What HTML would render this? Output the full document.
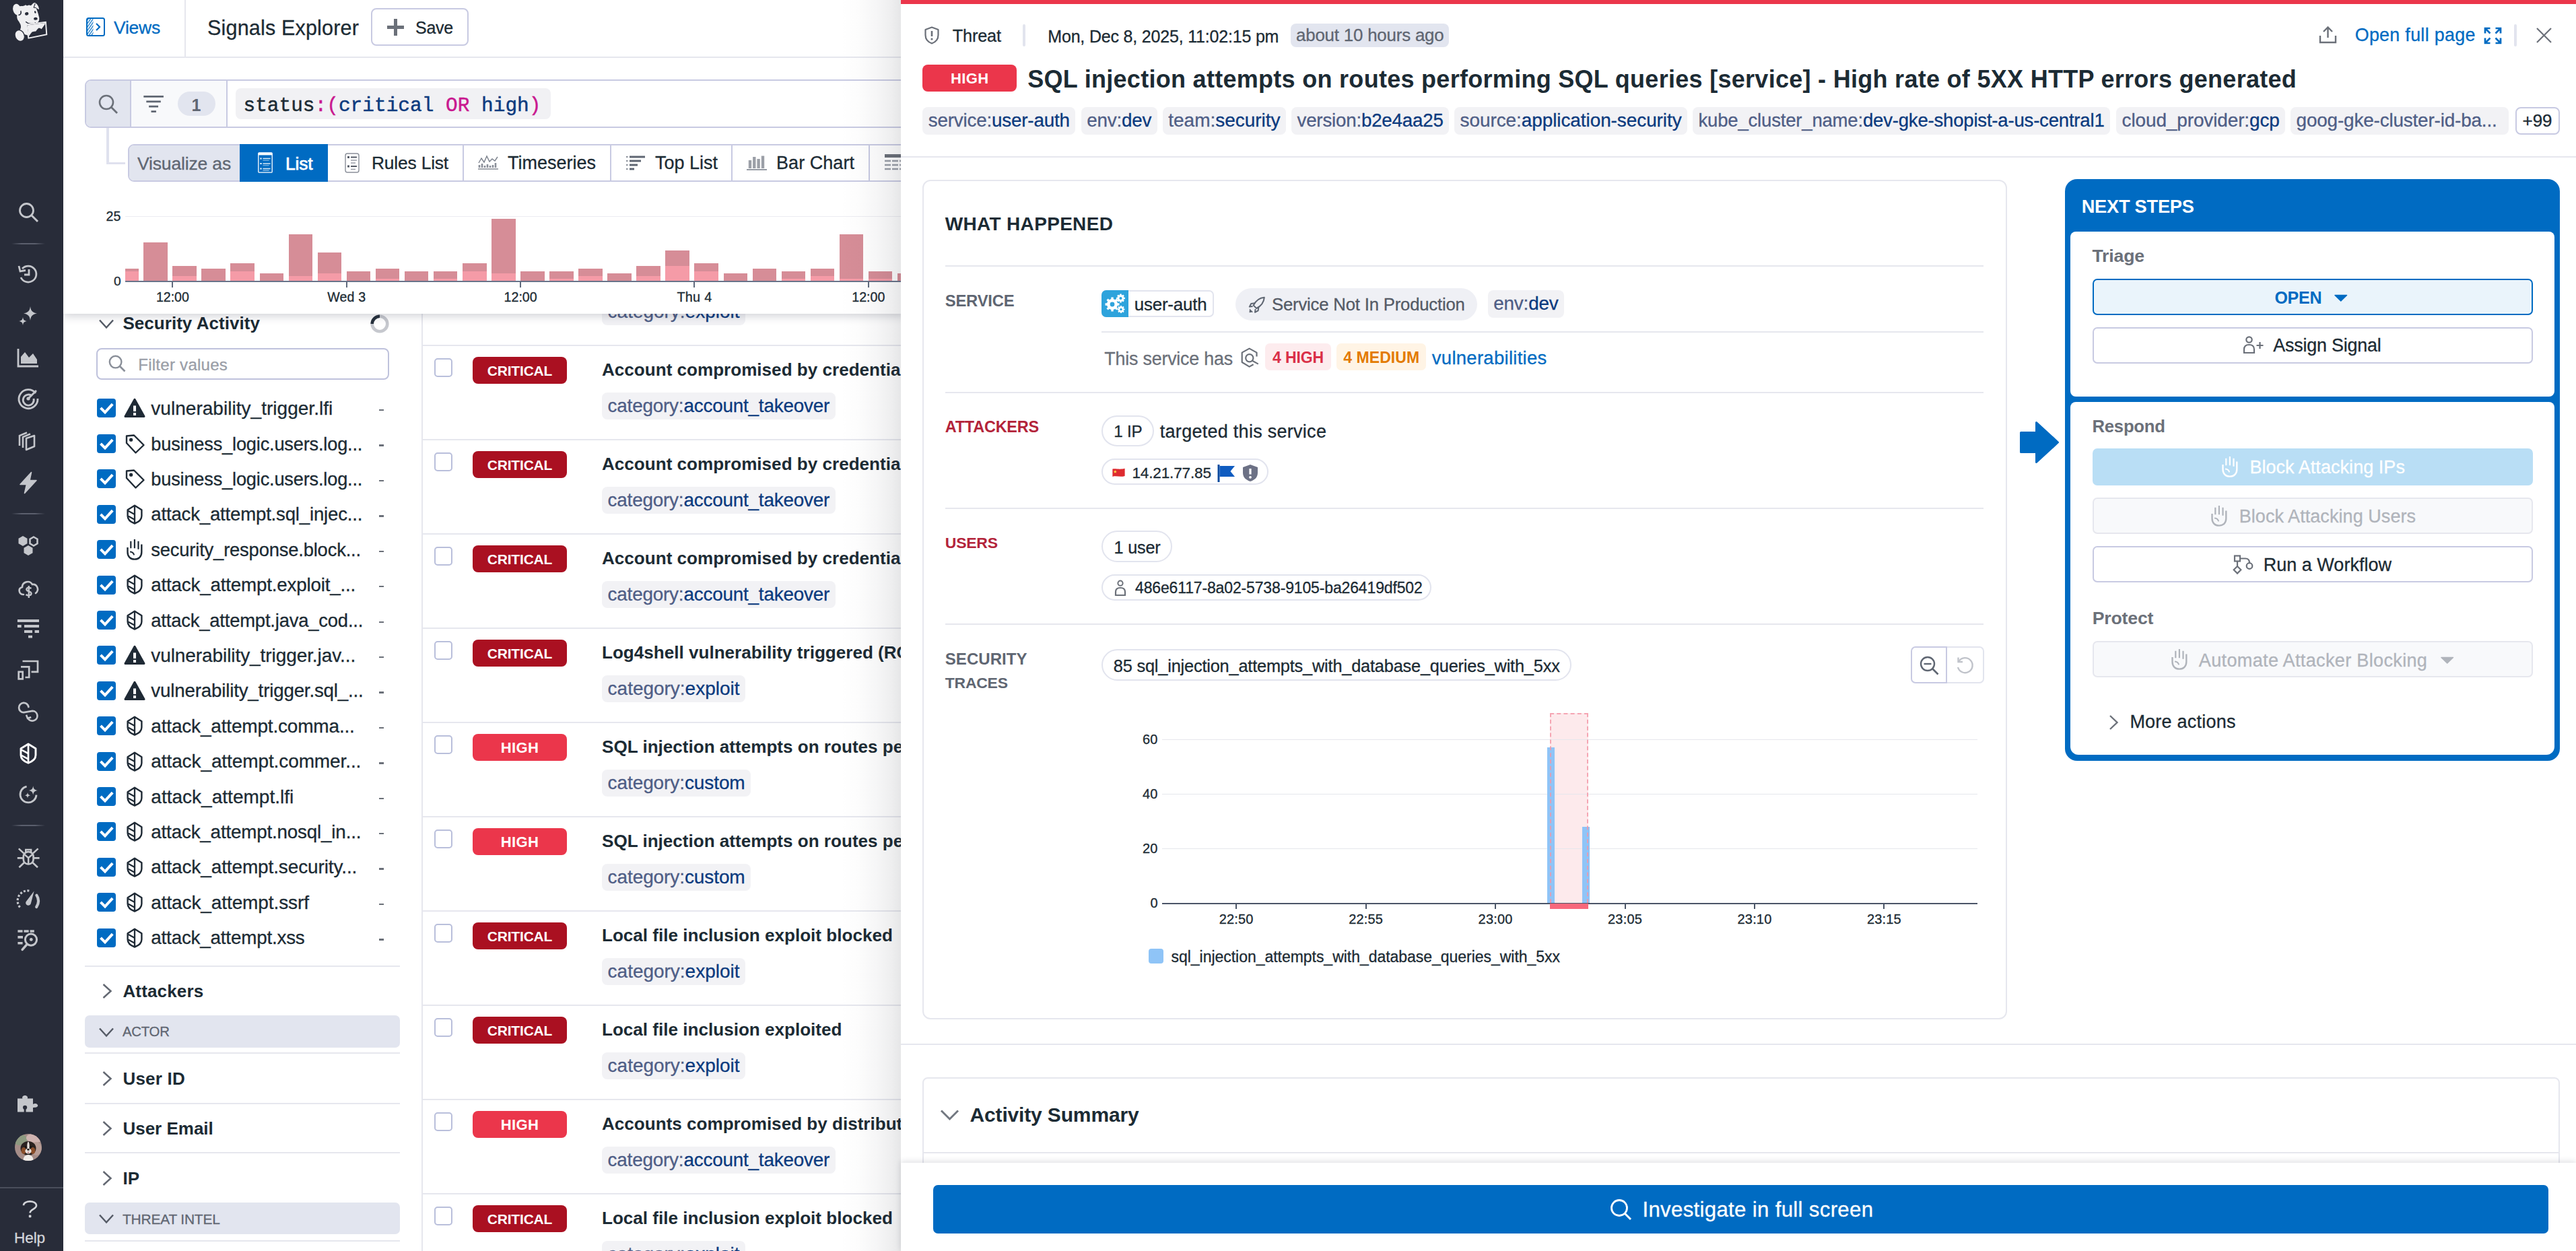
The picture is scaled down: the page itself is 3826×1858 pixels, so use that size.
<!DOCTYPE html>
<html><head><meta charset="utf-8"><title>Signals Explorer</title>
<style>
html,body{margin:0;padding:0;}
html{overflow:hidden;width:3826px;height:1858px;}
body{width:3826px;height:1858px;overflow:hidden;background:#fff;position:relative;font-family:"Liberation Sans",sans-serif;}
.a{position:absolute;box-sizing:border-box;}
.t{position:absolute;white-space:nowrap;}
svg{overflow:visible;}
.clip{position:absolute;overflow:hidden;}
</style></head><body>
<div id="root" style="position:absolute;left:0;top:0;width:3826px;height:1858px;overflow:hidden;">
<div class="a" style="left:626px;top:466px;width:2px;height:1400px;background:#e6e7ee;"></div>
<svg class="a" style="left:146px;top:471px;" width="24" height="20" viewBox="0 0 24 20"><path d="M2 4.5 L12 15.5 L22 4.5" fill="none" stroke="#555b66" stroke-width="2.5" stroke-linejoin="miter"/></svg>
<span class="t" style="left:182.40px;top:463.27px;font:700 26px/34px 'Liberation Sans',sans-serif;color:#1c2b34;letter-spacing:0.048px;">Security Activity</span>
<svg class="a" style="left:550px;top:467px;" width="28" height="28" viewBox="0 0 28 28"><circle cx="14" cy="14" r="11.3" fill="none" stroke="#c6c8ce" stroke-width="4.6"/><path d="M2.7 14 A11.3 11.3 0 0 1 14 2.7" fill="none" stroke="#27313d" stroke-width="4.6"/></svg>
<div class="a" style="left:143px;top:516.5px;width:434.5px;height:47px;background:#fff;border:2px solid #bfc2dc;border-radius:8px;"></div>
<svg class="a" style="left:160px;top:526px;" width="28" height="28" viewBox="0 0 28 28"><circle cx="11.6" cy="11.6" r="8.8" fill="none" stroke="#8a8f99" stroke-width="2.4"/><path d="M18 18 L25.5 25.5" stroke="#8a8f99" stroke-width="2.6"/></svg>
<span class="t" style="left:205.20px;top:525.93px;font:400 24.07px/31px 'Liberation Sans',sans-serif;color:#9a9ea7;letter-spacing:0.250px;-webkit-text-stroke:0.3px;">Filter values</span>
<div class="a" style="left:144px;top:592.4px;width:28px;height:28px;background:#006bc2;border-radius:4px;"></div>
<svg class="a" style="left:144px;top:592.4px;" width="28" height="28" viewBox="0 0 28 28"><path d="M5.5 13.8 L12 20.3 L23.2 8.2" fill="none" stroke="#fff" stroke-width="4"/></svg>
<svg class="a" style="left:184px;top:591.4px;" width="32" height="30" viewBox="0 0 32 30"><path d="M16 2.2 L30 27.5 H2 Z" fill="#1f2a35" stroke="#1f2a35" stroke-width="3" stroke-linejoin="round"/><rect x="14" y="11.5" width="4" height="8.5" fill="#fff"/><rect x="14" y="22" width="4" height="4" fill="#fff"/></svg>
<span class="t" style="left:224.30px;top:589.00px;font:400 28px/36px 'Liberation Sans',sans-serif;color:#1c2b34;letter-spacing:0.030px;-webkit-text-stroke:0.3px;">vulnerability_trigger.lfi</span>
<div class="a" style="left:562.5px;top:608px;width:7px;height:2.4px;background:#6b7079;"></div>
<div class="a" style="left:144px;top:644.82px;width:28px;height:28px;background:#006bc2;border-radius:4px;"></div>
<svg class="a" style="left:144px;top:644.82px;" width="28" height="28" viewBox="0 0 28 28"><path d="M5.5 13.8 L12 20.3 L23.2 8.2" fill="none" stroke="#fff" stroke-width="4"/></svg>
<svg class="a" style="left:186px;top:644.82px;" width="29" height="29" viewBox="0 0 29 29"><path d="M2 2.5 L13 1.5 L27.5 16 L15.5 27.5 L2 13 Z" fill="none" stroke="#1f2a35" stroke-width="2.4" stroke-linejoin="round"/><circle cx="8.6" cy="8.2" r="2.6" fill="#1f2a35"/></svg>
<span class="t" style="left:224.30px;top:641.91px;font:400 27.18px/35px 'Liberation Sans',sans-serif;color:#1c2b34;letter-spacing:-0.177px;-webkit-text-stroke:0.3px;">business_logic.users.log...</span>
<div class="a" style="left:562.5px;top:660.42px;width:7px;height:2.4px;background:#6b7079;"></div>
<div class="a" style="left:144px;top:697.24px;width:28px;height:28px;background:#006bc2;border-radius:4px;"></div>
<svg class="a" style="left:144px;top:697.24px;" width="28" height="28" viewBox="0 0 28 28"><path d="M5.5 13.8 L12 20.3 L23.2 8.2" fill="none" stroke="#fff" stroke-width="4"/></svg>
<svg class="a" style="left:186px;top:697.24px;" width="29" height="29" viewBox="0 0 29 29"><path d="M2 2.5 L13 1.5 L27.5 16 L15.5 27.5 L2 13 Z" fill="none" stroke="#1f2a35" stroke-width="2.4" stroke-linejoin="round"/><circle cx="8.6" cy="8.2" r="2.6" fill="#1f2a35"/></svg>
<span class="t" style="left:224.30px;top:694.33px;font:400 27.18px/35px 'Liberation Sans',sans-serif;color:#1c2b34;letter-spacing:-0.177px;-webkit-text-stroke:0.3px;">business_logic.users.log...</span>
<div class="a" style="left:562.5px;top:712.84px;width:7px;height:2.4px;background:#6b7079;"></div>
<div class="a" style="left:144px;top:749.66px;width:28px;height:28px;background:#006bc2;border-radius:4px;"></div>
<svg class="a" style="left:144px;top:749.66px;" width="28" height="28" viewBox="0 0 28 28"><path d="M5.5 13.8 L12 20.3 L23.2 8.2" fill="none" stroke="#fff" stroke-width="4"/></svg>
<svg class="a" style="left:188px;top:748.56px;" width="24" height="30" viewBox="0 0 24 30"><path d="M12 1.7 L22.4 8.2 V17.2 C22.4 22.4 17.5 26.5 12 28.5 C6.5 26.5 1.6 22.4 1.6 17.2 V8.2 Z" fill="none" stroke="#1f2a35" stroke-width="2.4" stroke-linejoin="round"/><path d="M12 1.7 V28.5" stroke="#1f2a35" stroke-width="2.3"/><path d="M2.4 9.8 L12 14.9 M2.4 17.6 L12 22.7" stroke="#1f2a35" stroke-width="2.3"/></svg>
<span class="t" style="left:224.30px;top:746.26px;font:400 27.57px/36px 'Liberation Sans',sans-serif;color:#1c2b34;letter-spacing:-0.176px;-webkit-text-stroke:0.3px;">attack_attempt.sql_injec...</span>
<div class="a" style="left:562.5px;top:765.26px;width:7px;height:2.4px;background:#6b7079;"></div>
<div class="a" style="left:144px;top:802.08px;width:28px;height:28px;background:#006bc2;border-radius:4px;"></div>
<svg class="a" style="left:144px;top:802.08px;" width="28" height="28" viewBox="0 0 28 28"><path d="M5.5 13.8 L12 20.3 L23.2 8.2" fill="none" stroke="#fff" stroke-width="4"/></svg>
<svg class="a" style="left:188.1px;top:800.58px;" width="24" height="31" viewBox="0 0 24 31"><path d="M1.5 12 V19 C1.5 25.6 5.8 29.6 11.9 29.6 C18 29.6 22.3 25.6 22.3 19 V7.6" fill="none" stroke="#1f2a35" stroke-width="2.4"/><path d="M6.3 2.8 V13.2 M11.9 0 V13.2 M17.5 2.8 V14.8" fill="none" stroke="#1f2a35" stroke-width="2.2"/><path d="M5 18.5 C8.2 18.7 10.7 20.6 11.1 23.4" fill="none" stroke="#1f2a35" stroke-width="2"/></svg>
<span class="t" style="left:224.30px;top:798.67px;font:400 27.36px/36px 'Liberation Sans',sans-serif;color:#1c2b34;letter-spacing:-0.181px;-webkit-text-stroke:0.3px;">security_response.block...</span>
<div class="a" style="left:562.5px;top:817.68px;width:7px;height:2.4px;background:#6b7079;"></div>
<div class="a" style="left:144px;top:854.5px;width:28px;height:28px;background:#006bc2;border-radius:4px;"></div>
<svg class="a" style="left:144px;top:854.5px;" width="28" height="28" viewBox="0 0 28 28"><path d="M5.5 13.8 L12 20.3 L23.2 8.2" fill="none" stroke="#fff" stroke-width="4"/></svg>
<svg class="a" style="left:188px;top:853.4px;" width="24" height="30" viewBox="0 0 24 30"><path d="M12 1.7 L22.4 8.2 V17.2 C22.4 22.4 17.5 26.5 12 28.5 C6.5 26.5 1.6 22.4 1.6 17.2 V8.2 Z" fill="none" stroke="#1f2a35" stroke-width="2.4" stroke-linejoin="round"/><path d="M12 1.7 V28.5" stroke="#1f2a35" stroke-width="2.3"/><path d="M2.4 9.8 L12 14.9 M2.4 17.6 L12 22.7" stroke="#1f2a35" stroke-width="2.3"/></svg>
<span class="t" style="left:224.30px;top:851.10px;font:400 27.74px/36px 'Liberation Sans',sans-serif;color:#1c2b34;letter-spacing:-0.177px;-webkit-text-stroke:0.3px;">attack_attempt.exploit_...</span>
<div class="a" style="left:562.5px;top:870.1px;width:7px;height:2.4px;background:#6b7079;"></div>
<div class="a" style="left:144px;top:906.92px;width:28px;height:28px;background:#006bc2;border-radius:4px;"></div>
<svg class="a" style="left:144px;top:906.92px;" width="28" height="28" viewBox="0 0 28 28"><path d="M5.5 13.8 L12 20.3 L23.2 8.2" fill="none" stroke="#fff" stroke-width="4"/></svg>
<svg class="a" style="left:188px;top:905.82px;" width="24" height="30" viewBox="0 0 24 30"><path d="M12 1.7 L22.4 8.2 V17.2 C22.4 22.4 17.5 26.5 12 28.5 C6.5 26.5 1.6 22.4 1.6 17.2 V8.2 Z" fill="none" stroke="#1f2a35" stroke-width="2.4" stroke-linejoin="round"/><path d="M12 1.7 V28.5" stroke="#1f2a35" stroke-width="2.3"/><path d="M2.4 9.8 L12 14.9 M2.4 17.6 L12 22.7" stroke="#1f2a35" stroke-width="2.3"/></svg>
<span class="t" style="left:224.30px;top:903.51px;font:400 27.4px/36px 'Liberation Sans',sans-serif;color:#1c2b34;letter-spacing:-0.187px;-webkit-text-stroke:0.3px;">attack_attempt.java_cod...</span>
<div class="a" style="left:562.5px;top:922.52px;width:7px;height:2.4px;background:#6b7079;"></div>
<div class="a" style="left:144px;top:959.34px;width:28px;height:28px;background:#006bc2;border-radius:4px;"></div>
<svg class="a" style="left:144px;top:959.34px;" width="28" height="28" viewBox="0 0 28 28"><path d="M5.5 13.8 L12 20.3 L23.2 8.2" fill="none" stroke="#fff" stroke-width="4"/></svg>
<svg class="a" style="left:184px;top:958.34px;" width="32" height="30" viewBox="0 0 32 30"><path d="M16 2.2 L30 27.5 H2 Z" fill="#1f2a35" stroke="#1f2a35" stroke-width="3" stroke-linejoin="round"/><rect x="14" y="11.5" width="4" height="8.5" fill="#fff"/><rect x="14" y="22" width="4" height="4" fill="#fff"/></svg>
<span class="t" style="left:224.30px;top:955.94px;font:400 28px/36px 'Liberation Sans',sans-serif;color:#1c2b34;letter-spacing:-0.081px;-webkit-text-stroke:0.3px;">vulnerability_trigger.jav...</span>
<div class="a" style="left:562.5px;top:974.94px;width:7px;height:2.4px;background:#6b7079;"></div>
<div class="a" style="left:144px;top:1011.76px;width:28px;height:28px;background:#006bc2;border-radius:4px;"></div>
<svg class="a" style="left:144px;top:1011.76px;" width="28" height="28" viewBox="0 0 28 28"><path d="M5.5 13.8 L12 20.3 L23.2 8.2" fill="none" stroke="#fff" stroke-width="4"/></svg>
<svg class="a" style="left:184px;top:1010.76px;" width="32" height="30" viewBox="0 0 32 30"><path d="M16 2.2 L30 27.5 H2 Z" fill="#1f2a35" stroke="#1f2a35" stroke-width="3" stroke-linejoin="round"/><rect x="14" y="11.5" width="4" height="8.5" fill="#fff"/><rect x="14" y="22" width="4" height="4" fill="#fff"/></svg>
<span class="t" style="left:224.30px;top:1008.36px;font:400 27.7px/36px 'Liberation Sans',sans-serif;color:#1c2b34;letter-spacing:-0.164px;-webkit-text-stroke:0.3px;">vulnerability_trigger.sql_...</span>
<div class="a" style="left:562.5px;top:1027.36px;width:7px;height:2.4px;background:#6b7079;"></div>
<div class="a" style="left:144px;top:1064.18px;width:28px;height:28px;background:#006bc2;border-radius:4px;"></div>
<svg class="a" style="left:144px;top:1064.18px;" width="28" height="28" viewBox="0 0 28 28"><path d="M5.5 13.8 L12 20.3 L23.2 8.2" fill="none" stroke="#fff" stroke-width="4"/></svg>
<svg class="a" style="left:188px;top:1063.08px;" width="24" height="30" viewBox="0 0 24 30"><path d="M12 1.7 L22.4 8.2 V17.2 C22.4 22.4 17.5 26.5 12 28.5 C6.5 26.5 1.6 22.4 1.6 17.2 V8.2 Z" fill="none" stroke="#1f2a35" stroke-width="2.4" stroke-linejoin="round"/><path d="M12 1.7 V28.5" stroke="#1f2a35" stroke-width="2.3"/><path d="M2.4 9.8 L12 14.9 M2.4 17.6 L12 22.7" stroke="#1f2a35" stroke-width="2.3"/></svg>
<span class="t" style="left:224.30px;top:1060.78px;font:400 28px/36px 'Liberation Sans',sans-serif;color:#1c2b34;letter-spacing:-0.181px;-webkit-text-stroke:0.3px;">attack_attempt.comma...</span>
<div class="a" style="left:562.5px;top:1079.78px;width:7px;height:2.4px;background:#6b7079;"></div>
<div class="a" style="left:144px;top:1116.6px;width:28px;height:28px;background:#006bc2;border-radius:4px;"></div>
<svg class="a" style="left:144px;top:1116.6px;" width="28" height="28" viewBox="0 0 28 28"><path d="M5.5 13.8 L12 20.3 L23.2 8.2" fill="none" stroke="#fff" stroke-width="4"/></svg>
<svg class="a" style="left:188px;top:1115.5px;" width="24" height="30" viewBox="0 0 24 30"><path d="M12 1.7 L22.4 8.2 V17.2 C22.4 22.4 17.5 26.5 12 28.5 C6.5 26.5 1.6 22.4 1.6 17.2 V8.2 Z" fill="none" stroke="#1f2a35" stroke-width="2.4" stroke-linejoin="round"/><path d="M12 1.7 V28.5" stroke="#1f2a35" stroke-width="2.3"/><path d="M2.4 9.8 L12 14.9 M2.4 17.6 L12 22.7" stroke="#1f2a35" stroke-width="2.3"/></svg>
<span class="t" style="left:224.30px;top:1113.20px;font:400 28px/36px 'Liberation Sans',sans-serif;color:#1c2b34;letter-spacing:-0.098px;-webkit-text-stroke:0.3px;">attack_attempt.commer...</span>
<div class="a" style="left:562.5px;top:1132.2px;width:7px;height:2.4px;background:#6b7079;"></div>
<div class="a" style="left:144px;top:1169.02px;width:28px;height:28px;background:#006bc2;border-radius:4px;"></div>
<svg class="a" style="left:144px;top:1169.02px;" width="28" height="28" viewBox="0 0 28 28"><path d="M5.5 13.8 L12 20.3 L23.2 8.2" fill="none" stroke="#fff" stroke-width="4"/></svg>
<svg class="a" style="left:188px;top:1167.92px;" width="24" height="30" viewBox="0 0 24 30"><path d="M12 1.7 L22.4 8.2 V17.2 C22.4 22.4 17.5 26.5 12 28.5 C6.5 26.5 1.6 22.4 1.6 17.2 V8.2 Z" fill="none" stroke="#1f2a35" stroke-width="2.4" stroke-linejoin="round"/><path d="M12 1.7 V28.5" stroke="#1f2a35" stroke-width="2.3"/><path d="M2.4 9.8 L12 14.9 M2.4 17.6 L12 22.7" stroke="#1f2a35" stroke-width="2.3"/></svg>
<span class="t" style="left:224.30px;top:1165.62px;font:400 28px/36px 'Liberation Sans',sans-serif;color:#1c2b34;letter-spacing:0.019px;-webkit-text-stroke:0.3px;">attack_attempt.lfi</span>
<div class="a" style="left:562.5px;top:1184.62px;width:7px;height:2.4px;background:#6b7079;"></div>
<div class="a" style="left:144px;top:1221.44px;width:28px;height:28px;background:#006bc2;border-radius:4px;"></div>
<svg class="a" style="left:144px;top:1221.44px;" width="28" height="28" viewBox="0 0 28 28"><path d="M5.5 13.8 L12 20.3 L23.2 8.2" fill="none" stroke="#fff" stroke-width="4"/></svg>
<svg class="a" style="left:188px;top:1220.34px;" width="24" height="30" viewBox="0 0 24 30"><path d="M12 1.7 L22.4 8.2 V17.2 C22.4 22.4 17.5 26.5 12 28.5 C6.5 26.5 1.6 22.4 1.6 17.2 V8.2 Z" fill="none" stroke="#1f2a35" stroke-width="2.4" stroke-linejoin="round"/><path d="M12 1.7 V28.5" stroke="#1f2a35" stroke-width="2.3"/><path d="M2.4 9.8 L12 14.9 M2.4 17.6 L12 22.7" stroke="#1f2a35" stroke-width="2.3"/></svg>
<span class="t" style="left:224.30px;top:1218.04px;font:400 27.8px/36px 'Liberation Sans',sans-serif;color:#1c2b34;letter-spacing:-0.185px;-webkit-text-stroke:0.3px;">attack_attempt.nosql_in...</span>
<div class="a" style="left:562.5px;top:1237.04px;width:7px;height:2.4px;background:#6b7079;"></div>
<div class="a" style="left:144px;top:1273.86px;width:28px;height:28px;background:#006bc2;border-radius:4px;"></div>
<svg class="a" style="left:144px;top:1273.86px;" width="28" height="28" viewBox="0 0 28 28"><path d="M5.5 13.8 L12 20.3 L23.2 8.2" fill="none" stroke="#fff" stroke-width="4"/></svg>
<svg class="a" style="left:188px;top:1272.76px;" width="24" height="30" viewBox="0 0 24 30"><path d="M12 1.7 L22.4 8.2 V17.2 C22.4 22.4 17.5 26.5 12 28.5 C6.5 26.5 1.6 22.4 1.6 17.2 V8.2 Z" fill="none" stroke="#1f2a35" stroke-width="2.4" stroke-linejoin="round"/><path d="M12 1.7 V28.5" stroke="#1f2a35" stroke-width="2.3"/><path d="M2.4 9.8 L12 14.9 M2.4 17.6 L12 22.7" stroke="#1f2a35" stroke-width="2.3"/></svg>
<span class="t" style="left:224.30px;top:1270.46px;font:400 28px/36px 'Liberation Sans',sans-serif;color:#1c2b34;letter-spacing:-0.126px;-webkit-text-stroke:0.3px;">attack_attempt.security...</span>
<div class="a" style="left:562.5px;top:1289.46px;width:7px;height:2.4px;background:#6b7079;"></div>
<div class="a" style="left:144px;top:1326.28px;width:28px;height:28px;background:#006bc2;border-radius:4px;"></div>
<svg class="a" style="left:144px;top:1326.28px;" width="28" height="28" viewBox="0 0 28 28"><path d="M5.5 13.8 L12 20.3 L23.2 8.2" fill="none" stroke="#fff" stroke-width="4"/></svg>
<svg class="a" style="left:188px;top:1325.18px;" width="24" height="30" viewBox="0 0 24 30"><path d="M12 1.7 L22.4 8.2 V17.2 C22.4 22.4 17.5 26.5 12 28.5 C6.5 26.5 1.6 22.4 1.6 17.2 V8.2 Z" fill="none" stroke="#1f2a35" stroke-width="2.4" stroke-linejoin="round"/><path d="M12 1.7 V28.5" stroke="#1f2a35" stroke-width="2.3"/><path d="M2.4 9.8 L12 14.9 M2.4 17.6 L12 22.7" stroke="#1f2a35" stroke-width="2.3"/></svg>
<span class="t" style="left:224.30px;top:1322.88px;font:400 28px/36px 'Liberation Sans',sans-serif;color:#1c2b34;letter-spacing:-0.107px;-webkit-text-stroke:0.3px;">attack_attempt.ssrf</span>
<div class="a" style="left:562.5px;top:1341.88px;width:7px;height:2.4px;background:#6b7079;"></div>
<div class="a" style="left:144px;top:1378.7px;width:28px;height:28px;background:#006bc2;border-radius:4px;"></div>
<svg class="a" style="left:144px;top:1378.7px;" width="28" height="28" viewBox="0 0 28 28"><path d="M5.5 13.8 L12 20.3 L23.2 8.2" fill="none" stroke="#fff" stroke-width="4"/></svg>
<svg class="a" style="left:188px;top:1377.6px;" width="24" height="30" viewBox="0 0 24 30"><path d="M12 1.7 L22.4 8.2 V17.2 C22.4 22.4 17.5 26.5 12 28.5 C6.5 26.5 1.6 22.4 1.6 17.2 V8.2 Z" fill="none" stroke="#1f2a35" stroke-width="2.4" stroke-linejoin="round"/><path d="M12 1.7 V28.5" stroke="#1f2a35" stroke-width="2.3"/><path d="M2.4 9.8 L12 14.9 M2.4 17.6 L12 22.7" stroke="#1f2a35" stroke-width="2.3"/></svg>
<span class="t" style="left:224.30px;top:1375.30px;font:400 27.81px/36px 'Liberation Sans',sans-serif;color:#1c2b34;letter-spacing:-0.192px;-webkit-text-stroke:0.3px;">attack_attempt.xss</span>
<div class="a" style="left:562.5px;top:1394.3px;width:7px;height:2.4px;background:#6b7079;"></div>
<div class="a" style="left:126px;top:1434px;width:468px;height:2px;background:#e6e7ee;"></div>
<svg class="a" style="left:148.5px;top:1460px;" width="20" height="24" viewBox="0 0 20 24"><path d="M4.5 2 L15.5 12 L4.5 22" fill="none" stroke="#636872" stroke-width="2.5"/></svg>
<span class="t" style="left:182.40px;top:1455.47px;font:700 26px/34px 'Liberation Sans',sans-serif;color:#1c2b34;letter-spacing:0.165px;">Attackers</span>
<div class="a" style="left:126px;top:1508px;width:468px;height:47.5px;background:#e2e5ef;border-radius:7px;"></div>
<svg class="a" style="left:146px;top:1522.5px;" width="24" height="20" viewBox="0 0 24 20"><path d="M2 4.5 L12 15.5 L22 4.5" fill="none" stroke="#555b66" stroke-width="2.5" stroke-linejoin="miter"/></svg>
<span class="t" style="left:182.00px;top:1519.37px;font:400 20.32px/26px 'Liberation Sans',sans-serif;color:#5f6672;letter-spacing:-0.211px;-webkit-text-stroke:0.3px;">ACTOR</span>
<div class="a" style="left:126px;top:1563.4px;width:468px;height:2px;background:#e6e7ee;"></div>
<svg class="a" style="left:148.5px;top:1589.5px;" width="20" height="24" viewBox="0 0 20 24"><path d="M4.5 2 L15.5 12 L4.5 22" fill="none" stroke="#636872" stroke-width="2.5"/></svg>
<span class="t" style="left:182.40px;top:1584.97px;font:700 26px/34px 'Liberation Sans',sans-serif;color:#1c2b34;letter-spacing:0.223px;">User ID</span>
<div class="a" style="left:126px;top:1637.5px;width:468px;height:2px;background:#e6e7ee;"></div>
<svg class="a" style="left:148.5px;top:1664px;" width="20" height="24" viewBox="0 0 20 24"><path d="M4.5 2 L15.5 12 L4.5 22" fill="none" stroke="#636872" stroke-width="2.5"/></svg>
<span class="t" style="left:182.40px;top:1659.47px;font:700 26px/34px 'Liberation Sans',sans-serif;color:#1c2b34;">User Email</span>
<div class="a" style="left:126px;top:1711.2px;width:468px;height:2px;background:#e6e7ee;"></div>
<svg class="a" style="left:148.5px;top:1738px;" width="20" height="24" viewBox="0 0 20 24"><path d="M4.5 2 L15.5 12 L4.5 22" fill="none" stroke="#636872" stroke-width="2.5"/></svg>
<span class="t" style="left:182.40px;top:1733.47px;font:700 26px/34px 'Liberation Sans',sans-serif;color:#1c2b34;letter-spacing:0.067px;">IP</span>
<div class="a" style="left:126px;top:1785.9px;width:468px;height:47px;background:#e2e5ef;border-radius:7px;"></div>
<svg class="a" style="left:146px;top:1800.4px;" width="24" height="20" viewBox="0 0 24 20"><path d="M2 4.5 L12 15.5 L22 4.5" fill="none" stroke="#555b66" stroke-width="2.5" stroke-linejoin="miter"/></svg>
<span class="t" style="left:182.00px;top:1796.88px;font:400 20.93px/27px 'Liberation Sans',sans-serif;color:#5f6672;letter-spacing:-0.185px;-webkit-text-stroke:0.3px;">THREAT INTEL</span>
<div class="a" style="left:126px;top:1842px;width:468px;height:2px;background:#e6e7ee;"></div>
<div class="a" style="left:894.2px;top:442.6px;width:212.7px;height:40.6px;background:#f2f2f5;border-radius:8px;"></div>
<span class="t" style="left:902.60px;top:445.20px;font:400 28px/36px 'Liberation Sans',sans-serif;color:#0b3a7e;letter-spacing:-0.020px;-webkit-text-stroke:0.3px;"><span style="color:#4f5e86">category:</span>exploit</span>
<div class="a" style="left:628px;top:511.8px;width:720px;height:2px;background:#e6e7ee;"></div>
<div class="a" style="left:644.5px;top:532.1px;width:27.5px;height:27.5px;background:#fff;border:2px solid #b9bfdb;border-radius:5px;"></div>
<div class="a" style="left:702px;top:530.2px;width:140px;height:39.4px;background:#aa1021;border-radius:8px;"></div>
<span class="t" style="left:723.80px;top:536.98px;font:700 20.97px/27px 'Liberation Sans',sans-serif;color:#fff;letter-spacing:-0.181px;">CRITICAL</span>
<span class="t" style="left:894.00px;top:532.27px;font:700 26.08px/34px 'Liberation Sans',sans-serif;color:#1c2b34;">Account compromised by credential stuffing</span>
<div class="a" style="left:894.2px;top:582.6px;width:346.4px;height:40.6px;background:#f2f2f5;border-radius:8px;"></div>
<span class="t" style="left:902.60px;top:585.20px;font:400 27.86px/36px 'Liberation Sans',sans-serif;color:#0b3a7e;letter-spacing:-0.201px;-webkit-text-stroke:0.3px;"><span style="color:#4f5e86">category:</span>account_takeover</span>
<div class="a" style="left:628px;top:651.8px;width:720px;height:2px;background:#e6e7ee;"></div>
<div class="a" style="left:644.5px;top:672.1px;width:27.5px;height:27.5px;background:#fff;border:2px solid #b9bfdb;border-radius:5px;"></div>
<div class="a" style="left:702px;top:670.2px;width:140px;height:39.4px;background:#aa1021;border-radius:8px;"></div>
<span class="t" style="left:723.80px;top:676.98px;font:700 20.97px/27px 'Liberation Sans',sans-serif;color:#fff;letter-spacing:-0.181px;">CRITICAL</span>
<span class="t" style="left:894.00px;top:672.27px;font:700 26.08px/34px 'Liberation Sans',sans-serif;color:#1c2b34;">Account compromised by credential stuffing</span>
<div class="a" style="left:894.2px;top:722.6px;width:346.4px;height:40.6px;background:#f2f2f5;border-radius:8px;"></div>
<span class="t" style="left:902.60px;top:725.20px;font:400 27.86px/36px 'Liberation Sans',sans-serif;color:#0b3a7e;letter-spacing:-0.201px;-webkit-text-stroke:0.3px;"><span style="color:#4f5e86">category:</span>account_takeover</span>
<div class="a" style="left:628px;top:791.8px;width:720px;height:2px;background:#e6e7ee;"></div>
<div class="a" style="left:644.5px;top:812.1px;width:27.5px;height:27.5px;background:#fff;border:2px solid #b9bfdb;border-radius:5px;"></div>
<div class="a" style="left:702px;top:810.2px;width:140px;height:39.4px;background:#aa1021;border-radius:8px;"></div>
<span class="t" style="left:723.80px;top:816.98px;font:700 20.97px/27px 'Liberation Sans',sans-serif;color:#fff;letter-spacing:-0.181px;">CRITICAL</span>
<span class="t" style="left:894.00px;top:812.27px;font:700 26.08px/34px 'Liberation Sans',sans-serif;color:#1c2b34;">Account compromised by credential stuffing</span>
<div class="a" style="left:894.2px;top:862.6px;width:346.4px;height:40.6px;background:#f2f2f5;border-radius:8px;"></div>
<span class="t" style="left:902.60px;top:865.20px;font:400 27.86px/36px 'Liberation Sans',sans-serif;color:#0b3a7e;letter-spacing:-0.201px;-webkit-text-stroke:0.3px;"><span style="color:#4f5e86">category:</span>account_takeover</span>
<div class="a" style="left:628px;top:931.8px;width:720px;height:2px;background:#e6e7ee;"></div>
<div class="a" style="left:644.5px;top:952.1px;width:27.5px;height:27.5px;background:#fff;border:2px solid #b9bfdb;border-radius:5px;"></div>
<div class="a" style="left:702px;top:950.2px;width:140px;height:39.4px;background:#aa1021;border-radius:8px;"></div>
<span class="t" style="left:723.80px;top:956.98px;font:700 20.97px/27px 'Liberation Sans',sans-serif;color:#fff;letter-spacing:-0.181px;">CRITICAL</span>
<span class="t" style="left:894.00px;top:952.27px;font:700 26.08px/34px 'Liberation Sans',sans-serif;color:#1c2b34;">Log4shell vulnerability triggered (RCE)</span>
<div class="a" style="left:894.2px;top:1002.6px;width:212.7px;height:40.6px;background:#f2f2f5;border-radius:8px;"></div>
<span class="t" style="left:902.60px;top:1005.20px;font:400 28px/36px 'Liberation Sans',sans-serif;color:#0b3a7e;letter-spacing:-0.020px;-webkit-text-stroke:0.3px;"><span style="color:#4f5e86">category:</span>exploit</span>
<div class="a" style="left:628px;top:1071.8px;width:720px;height:2px;background:#e6e7ee;"></div>
<div class="a" style="left:644.5px;top:1092.1px;width:27.5px;height:27.5px;background:#fff;border:2px solid #b9bfdb;border-radius:5px;"></div>
<div class="a" style="left:702px;top:1090.2px;width:140px;height:39.4px;background:#eb364b;border-radius:8px;"></div>
<span class="t" style="left:743.75px;top:1096.00px;font:700 22.05px/29px 'Liberation Sans',sans-serif;color:#fff;letter-spacing:0.344px;">HIGH</span>
<span class="t" style="left:894.00px;top:1092.27px;font:700 26.08px/34px 'Liberation Sans',sans-serif;color:#1c2b34;">SQL injection attempts on routes performing SQL queries</span>
<div class="a" style="left:894.2px;top:1142.6px;width:220.9px;height:40.6px;background:#f2f2f5;border-radius:8px;"></div>
<span class="t" style="left:902.60px;top:1145.20px;font:400 28px/36px 'Liberation Sans',sans-serif;color:#0b3a7e;letter-spacing:-0.095px;-webkit-text-stroke:0.3px;"><span style="color:#4f5e86">category:</span>custom</span>
<div class="a" style="left:628px;top:1211.8px;width:720px;height:2px;background:#e6e7ee;"></div>
<div class="a" style="left:644.5px;top:1232.1px;width:27.5px;height:27.5px;background:#fff;border:2px solid #b9bfdb;border-radius:5px;"></div>
<div class="a" style="left:702px;top:1230.2px;width:140px;height:39.4px;background:#eb364b;border-radius:8px;"></div>
<span class="t" style="left:743.75px;top:1236.00px;font:700 22.05px/29px 'Liberation Sans',sans-serif;color:#fff;letter-spacing:0.344px;">HIGH</span>
<span class="t" style="left:894.00px;top:1232.27px;font:700 26.08px/34px 'Liberation Sans',sans-serif;color:#1c2b34;">SQL injection attempts on routes performing SQL queries</span>
<div class="a" style="left:894.2px;top:1282.6px;width:220.9px;height:40.6px;background:#f2f2f5;border-radius:8px;"></div>
<span class="t" style="left:902.60px;top:1285.20px;font:400 28px/36px 'Liberation Sans',sans-serif;color:#0b3a7e;letter-spacing:-0.095px;-webkit-text-stroke:0.3px;"><span style="color:#4f5e86">category:</span>custom</span>
<div class="a" style="left:628px;top:1351.8px;width:720px;height:2px;background:#e6e7ee;"></div>
<div class="a" style="left:644.5px;top:1372.1px;width:27.5px;height:27.5px;background:#fff;border:2px solid #b9bfdb;border-radius:5px;"></div>
<div class="a" style="left:702px;top:1370.2px;width:140px;height:39.4px;background:#aa1021;border-radius:8px;"></div>
<span class="t" style="left:723.80px;top:1376.98px;font:700 20.97px/27px 'Liberation Sans',sans-serif;color:#fff;letter-spacing:-0.181px;">CRITICAL</span>
<span class="t" style="left:894.00px;top:1372.27px;font:700 26.08px/34px 'Liberation Sans',sans-serif;color:#1c2b34;">Local file inclusion exploit blocked</span>
<div class="a" style="left:894.2px;top:1422.6px;width:212.7px;height:40.6px;background:#f2f2f5;border-radius:8px;"></div>
<span class="t" style="left:902.60px;top:1425.20px;font:400 28px/36px 'Liberation Sans',sans-serif;color:#0b3a7e;letter-spacing:-0.020px;-webkit-text-stroke:0.3px;"><span style="color:#4f5e86">category:</span>exploit</span>
<div class="a" style="left:628px;top:1491.8px;width:720px;height:2px;background:#e6e7ee;"></div>
<div class="a" style="left:644.5px;top:1512.1px;width:27.5px;height:27.5px;background:#fff;border:2px solid #b9bfdb;border-radius:5px;"></div>
<div class="a" style="left:702px;top:1510.2px;width:140px;height:39.4px;background:#aa1021;border-radius:8px;"></div>
<span class="t" style="left:723.80px;top:1516.98px;font:700 20.97px/27px 'Liberation Sans',sans-serif;color:#fff;letter-spacing:-0.181px;">CRITICAL</span>
<span class="t" style="left:894.00px;top:1512.27px;font:700 26.08px/34px 'Liberation Sans',sans-serif;color:#1c2b34;">Local file inclusion exploited</span>
<div class="a" style="left:894.2px;top:1562.6px;width:212.7px;height:40.6px;background:#f2f2f5;border-radius:8px;"></div>
<span class="t" style="left:902.60px;top:1565.20px;font:400 28px/36px 'Liberation Sans',sans-serif;color:#0b3a7e;letter-spacing:-0.020px;-webkit-text-stroke:0.3px;"><span style="color:#4f5e86">category:</span>exploit</span>
<div class="a" style="left:628px;top:1631.8px;width:720px;height:2px;background:#e6e7ee;"></div>
<div class="a" style="left:644.5px;top:1652.1px;width:27.5px;height:27.5px;background:#fff;border:2px solid #b9bfdb;border-radius:5px;"></div>
<div class="a" style="left:702px;top:1650.2px;width:140px;height:39.4px;background:#eb364b;border-radius:8px;"></div>
<span class="t" style="left:743.75px;top:1656.00px;font:700 22.05px/29px 'Liberation Sans',sans-serif;color:#fff;letter-spacing:0.344px;">HIGH</span>
<span class="t" style="left:894.00px;top:1652.27px;font:700 26.08px/34px 'Liberation Sans',sans-serif;color:#1c2b34;">Accounts compromised by distributed credential stuffing</span>
<div class="a" style="left:894.2px;top:1702.6px;width:346.4px;height:40.6px;background:#f2f2f5;border-radius:8px;"></div>
<span class="t" style="left:902.60px;top:1705.20px;font:400 27.86px/36px 'Liberation Sans',sans-serif;color:#0b3a7e;letter-spacing:-0.201px;-webkit-text-stroke:0.3px;"><span style="color:#4f5e86">category:</span>account_takeover</span>
<div class="a" style="left:628px;top:1771.8px;width:720px;height:2px;background:#e6e7ee;"></div>
<div class="a" style="left:644.5px;top:1792.1px;width:27.5px;height:27.5px;background:#fff;border:2px solid #b9bfdb;border-radius:5px;"></div>
<div class="a" style="left:702px;top:1790.2px;width:140px;height:39.4px;background:#aa1021;border-radius:8px;"></div>
<span class="t" style="left:723.80px;top:1796.98px;font:700 20.97px/27px 'Liberation Sans',sans-serif;color:#fff;letter-spacing:-0.181px;">CRITICAL</span>
<span class="t" style="left:894.00px;top:1792.27px;font:700 26.08px/34px 'Liberation Sans',sans-serif;color:#1c2b34;">Local file inclusion exploit blocked</span>
<div class="a" style="left:894.2px;top:1842.6px;width:212.7px;height:40.6px;background:#f2f2f5;border-radius:8px;"></div>
<span class="t" style="left:902.60px;top:1845.20px;font:400 28px/36px 'Liberation Sans',sans-serif;color:#0b3a7e;letter-spacing:-0.020px;-webkit-text-stroke:0.3px;"><span style="color:#4f5e86">category:</span>exploit</span>
<div class="a" style="left:94px;top:0px;width:1250px;height:466px;background:#fff;box-shadow:0 3px 13px rgba(30,35,60,.22);"></div>
<div class="a" style="left:94px;top:84px;width:1250px;height:2px;background:#e6e7ee;"></div>
<div class="a" style="left:274px;top:0px;width:2px;height:85px;background:#e6e7ee;"></div>
<svg class="a" style="left:128px;top:26px;" width="28" height="28" viewBox="0 0 28 28"><defs><pattern id="hatch" width="3" height="3" patternUnits="userSpaceOnUse" patternTransform="rotate(-55)"><rect width="3" height="1.2" fill="#006bc2"/></pattern></defs><rect x="1" y="1" width="26" height="26" rx="2.5" fill="#fff" stroke="#006bc2" stroke-width="2"/><rect x="2" y="2" width="8.5" height="24" fill="url(#hatch)"/><path d="M15 9 L20 14 L15 19" fill="none" stroke="#006bc2" stroke-width="2.2"/></svg>
<span class="t" style="left:169.00px;top:23.98px;font:400 26.44px/34px 'Liberation Sans',sans-serif;color:#006bc2;letter-spacing:-0.211px;-webkit-text-stroke:0.3px;">Views</span>
<span class="t" style="left:308.00px;top:20.55px;font:400 30.5px/40px 'Liberation Sans',sans-serif;color:#1c2b34;letter-spacing:0.182px;-webkit-text-stroke:0.3px;">Signals Explorer</span>
<div class="a" style="left:551px;top:12px;width:145px;height:56px;background:#fff;border:2px solid #c8cae2;border-radius:8px;"></div>
<svg class="a" style="left:574px;top:27px;" width="27" height="27" viewBox="0 0 27 27"><path d="M13.5 1 V26 M1 13.5 H26" stroke="#6b7079" stroke-width="5" fill="none"/></svg>
<span class="t" style="left:617.00px;top:24.95px;font:400 24.94px/32px 'Liberation Sans',sans-serif;color:#1c2b34;letter-spacing:-0.212px;-webkit-text-stroke:0.3px;">Save</span>
<div class="a" style="left:126px;top:118px;width:1400px;height:72px;background:#fff;border:2px solid #c8cae2;border-radius:9px 0 0 9px;"></div>
<div class="a" style="left:128px;top:120px;width:65px;height:68px;background:#e2e5ef;border-radius:7px 0 0 7px;"></div>
<div class="a" style="left:193px;top:120px;width:2px;height:68px;background:#c8cae2;"></div>
<div class="a" style="left:195px;top:120px;width:141px;height:68px;background:#f8f9fb;"></div>
<div class="a" style="left:336px;top:120px;width:2px;height:68px;background:#c8cae2;"></div>
<svg class="a" style="left:146px;top:140px;" width="30" height="30" viewBox="0 0 30 30"><circle cx="12" cy="12" r="10" fill="none" stroke="#6b7079" stroke-width="2.6"/><path d="M19.5 19.5 L28 28" stroke="#6b7079" stroke-width="2.8"/></svg>
<svg class="a" style="left:212px;top:141px;" width="32" height="27" viewBox="0 0 32 27"><path d="M1.3 2.3 H30.9 M5.3 9.8 H26.8 M9.1 17.2 H23 M12.5 24.7 H19.9" stroke="#5f6672" stroke-width="2.7" fill="none"/></svg>
<div class="a" style="left:264px;top:136px;width:56px;height:36px;background:#e2e5ef;border-radius:18px;"></div>
<span class="t" style="left:284.55px;top:139.95px;font:700 25px/32px 'Liberation Sans',sans-serif;color:#5f6672;">1</span>
<div class="a" style="left:350px;top:131px;width:468px;height:46px;background:#f1f1f4;border-radius:8px;"></div>
<span class="t" style="left:361.50px;top:137.83px;font:400 29.46px/38px 'Liberation Mono',monospace;color:#1c2b34;-webkit-text-stroke:0.45px #1c2b34;">status</span>
<span class="t" style="left:467.58px;top:137.83px;font:400 29.46px/38px 'Liberation Mono',monospace;color:#c9188f;-webkit-text-stroke:0.45px #c9188f;">:(</span>
<span class="t" style="left:502.94px;top:137.83px;font:400 29.46px/38px 'Liberation Mono',monospace;color:#0b3a7e;-webkit-text-stroke:0.45px #0b3a7e;">critical</span>
<span class="t" style="left:662.06px;top:137.83px;font:400 29.46px/38px 'Liberation Mono',monospace;color:#c9188f;-webkit-text-stroke:0.45px #c9188f;">OR</span>
<span class="t" style="left:715.10px;top:137.83px;font:400 29.46px/38px 'Liberation Mono',monospace;color:#0b3a7e;-webkit-text-stroke:0.45px #0b3a7e;">high</span>
<span class="t" style="left:785.82px;top:137.83px;font:400 29.46px/38px 'Liberation Mono',monospace;color:#c9188f;-webkit-text-stroke:0.45px #c9188f;">)</span>
<div class="a" style="left:158.3px;top:190px;width:3.7px;height:54.4px;background:#dfe1ee;"></div>
<div class="a" style="left:158.3px;top:240.7px;width:28px;height:3.7px;background:#dfe1ee;"></div>
<div class="a" style="left:190px;top:214.3px;width:1300px;height:55.4px;background:#fff;border:2px solid #c8cae2;border-radius:9px 0 0 9px;"></div>
<div class="a" style="left:192px;top:216.3px;width:164px;height:51.4px;background:#e2e5ef;border-radius:7px 0 0 7px;"></div>
<span class="t" style="left:204.00px;top:226.18px;font:400 26.5px/34px 'Liberation Sans',sans-serif;color:#5f6672;letter-spacing:-0.161px;-webkit-text-stroke:0.3px;">Visualize as</span>
<div class="a" style="left:356px;top:214.3px;width:131px;height:55.4px;background:#006bc2;"></div>
<svg class="a" style="left:383px;top:226px;" width="22" height="31" viewBox="0 0 22 31"><rect x="0.8" y="0.8" width="20.4" height="29.4" rx="1.2" fill="none" stroke="#fff" stroke-width="1.3"/><rect x="0.8" y="0.8" width="20.4" height="3.6" fill="#fff"/><path d="M3.4 9.6 H5.6 M3.4 17 H5.6 M3.4 24.4 H5.6" stroke="#fff" stroke-width="2"/><path d="M7.4 9.6 H18.6 M7.4 17 H18.6 M7.4 24.4 H18.6" stroke="#fff" stroke-width="1.5" opacity=".85"/><path d="M7.4 12.3 H16.6 M7.4 19.7 H16.6 M7.4 27.1 H16.6" stroke="#fff" stroke-width="1.1" opacity=".6"/></svg>
<span class="t" style="left:424.00px;top:225.78px;font:400 26.42px/34px 'Liberation Sans',sans-serif;color:#fff;letter-spacing:-0.154px;-webkit-text-stroke:0.75px #fff;">List</span>
<div class="a" style="left:687px;top:216.3px;width:2px;height:51.4px;background:#c8cae2;"></div>
<div class="a" style="left:906px;top:216.3px;width:2px;height:51.4px;background:#c8cae2;"></div>
<div class="a" style="left:1086px;top:216.3px;width:2px;height:51.4px;background:#c8cae2;"></div>
<div class="a" style="left:1290px;top:216.3px;width:2px;height:51.4px;background:#c8cae2;"></div>
<svg class="a" style="left:512px;top:227px;" width="22" height="30" viewBox="0 0 22 30"><rect x="1" y="1" width="20" height="28" rx="3" fill="#fff" stroke="#8a8f99" stroke-width="1.4"/><path d="M4 6.5 H7 M4 20 H7" stroke="#555b66" stroke-width="3"/><path d="M9 6.5 H18 M9 20 H18" stroke="#555b66" stroke-width="2.2"/><path d="M9 11 H18 M9 15 H16 M9 24.5 H16" stroke="#9a9fa8" stroke-width="1.4"/></svg>
<span class="t" style="left:552.00px;top:225.47px;font:400 26.36px/34px 'Liberation Sans',sans-serif;color:#1c2b34;letter-spacing:-0.174px;-webkit-text-stroke:0.3px;">Rules List</span>
<svg class="a" style="left:710px;top:230px;" width="30" height="22" viewBox="0 0 30 22"><path d="M1 12 L5 5 L9 11 L13 2 L17 10 L21 6 L25 9 L29 3" fill="none" stroke="#7b818c" stroke-width="1.4"/><path d="M2 19 V15 M6 19 V13 M10 19 V16 M14 19 V14 M18 19 V16 M22 19 V15 M26 19 V12" stroke="#8a8f99" stroke-width="2.6"/><path d="M0 21 H30" stroke="#7b818c" stroke-width="1.4"/></svg>
<span class="t" style="left:754.00px;top:224.99px;font:400 27px/35px 'Liberation Sans',sans-serif;color:#1c2b34;-webkit-text-stroke:0.3px;">Timeseries</span>
<svg class="a" style="left:930px;top:231px;" width="28" height="22" viewBox="0 0 28 22"><path d="M5 2 H28 M5 8 H22 M5 14 H17 M5 20 H12" stroke="#5f6672" stroke-width="2.8"/><path d="M0 2 H2.5 M0 8 H2.5 M0 14 H2.5 M0 20 H2.5" stroke="#8a8f99" stroke-width="2"/></svg>
<span class="t" style="left:973.00px;top:224.99px;font:400 27px/35px 'Liberation Sans',sans-serif;color:#1c2b34;letter-spacing:-0.006px;-webkit-text-stroke:0.3px;">Top List</span>
<svg class="a" style="left:1109px;top:230px;" width="30" height="23" viewBox="0 0 30 23"><path d="M5 20 V8 M11.3 20 V3 M17.6 20 V6 M24 20 V1.5" stroke="#9b9fa7" stroke-width="4.4"/><path d="M0 22 H30" stroke="#7b818c" stroke-width="1.6"/></svg>
<span class="t" style="left:1153.00px;top:224.99px;font:400 27px/35px 'Liberation Sans',sans-serif;color:#1c2b34;letter-spacing:0.051px;-webkit-text-stroke:0.3px;">Bar Chart</span>
<svg class="a" style="left:1314px;top:229px;" width="30" height="26" viewBox="0 0 30 26"><rect x="0" y="0" width="30" height="5" fill="#6b7079"/><path d="M0 10 H30 M0 16 H30 M0 22 H30" stroke="#9a9fa8" stroke-width="2.4" stroke-dasharray="9 2"/></svg>
<div class="a" style="left:186px;top:320.5px;width:1160px;height:1.5px;background:#ececf1;"></div>
<span class="t" style="left:157.50px;top:308.55px;font:400 19.6px/25px 'Liberation Sans',sans-serif;color:#1c2b34;letter-spacing:0.099px;-webkit-text-stroke:0.3px;">25</span>
<span class="t" style="left:169.00px;top:405.25px;font:400 19.17px/25px 'Liberation Sans',sans-serif;color:#1c2b34;letter-spacing:-0.162px;-webkit-text-stroke:0.3px;">0</span>
<div class="a" style="left:186.2px;top:398.65px;width:20px;height:19.35px;background:#d68d97;"></div>
<div class="a" style="left:186.2px;top:402.52px;width:20px;height:15.48px;background:#f59ba7;"></div>
<div class="a" style="left:213.3px;top:359.95px;width:35.6px;height:58.05px;background:#d68d97;"></div>
<div class="a" style="left:256.36px;top:394.78px;width:35.6px;height:23.22px;background:#d68d97;"></div>
<div class="a" style="left:256.36px;top:410.26px;width:35.6px;height:7.74px;background:#f59ba7;"></div>
<div class="a" style="left:299.42px;top:398.65px;width:35.6px;height:19.35px;background:#d68d97;"></div>
<div class="a" style="left:342.48px;top:390.91px;width:35.6px;height:27.09px;background:#d68d97;"></div>
<div class="a" style="left:342.48px;top:402.52px;width:35.6px;height:15.48px;background:#f59ba7;"></div>
<div class="a" style="left:385.54px;top:406.39px;width:35.6px;height:11.61px;background:#d68d97;"></div>
<div class="a" style="left:428.6px;top:348.34px;width:35.6px;height:69.66px;background:#d68d97;"></div>
<div class="a" style="left:428.6px;top:410.26px;width:35.6px;height:7.74px;background:#f59ba7;"></div>
<div class="a" style="left:471.66px;top:375.43px;width:35.6px;height:42.57px;background:#d68d97;"></div>
<div class="a" style="left:471.66px;top:406.39px;width:35.6px;height:11.61px;background:#f59ba7;"></div>
<div class="a" style="left:514.72px;top:402.52px;width:35.6px;height:15.48px;background:#d68d97;"></div>
<div class="a" style="left:557.78px;top:398.65px;width:35.6px;height:19.35px;background:#d68d97;"></div>
<div class="a" style="left:557.78px;top:414.13px;width:35.6px;height:3.87px;background:#f59ba7;"></div>
<div class="a" style="left:600.84px;top:402.52px;width:35.6px;height:15.48px;background:#d68d97;"></div>
<div class="a" style="left:643.9px;top:402.52px;width:35.6px;height:15.48px;background:#d68d97;"></div>
<div class="a" style="left:643.9px;top:414.13px;width:35.6px;height:3.87px;background:#f59ba7;"></div>
<div class="a" style="left:686.96px;top:390.91px;width:35.6px;height:27.09px;background:#d68d97;"></div>
<div class="a" style="left:686.96px;top:402.52px;width:35.6px;height:15.48px;background:#f59ba7;"></div>
<div class="a" style="left:730.02px;top:325.12px;width:35.6px;height:92.88px;background:#d68d97;"></div>
<div class="a" style="left:730.02px;top:406.39px;width:35.6px;height:11.61px;background:#f59ba7;"></div>
<div class="a" style="left:773.08px;top:402.52px;width:35.6px;height:15.48px;background:#d68d97;"></div>
<div class="a" style="left:816.14px;top:402.52px;width:35.6px;height:15.48px;background:#d68d97;"></div>
<div class="a" style="left:816.14px;top:414.13px;width:35.6px;height:3.87px;background:#f59ba7;"></div>
<div class="a" style="left:859.2px;top:398.65px;width:35.6px;height:19.35px;background:#d68d97;"></div>
<div class="a" style="left:859.2px;top:410.26px;width:35.6px;height:7.74px;background:#f59ba7;"></div>
<div class="a" style="left:902.26px;top:406.39px;width:35.6px;height:11.61px;background:#d68d97;"></div>
<div class="a" style="left:945.32px;top:394.78px;width:35.6px;height:23.22px;background:#d68d97;"></div>
<div class="a" style="left:945.32px;top:410.26px;width:35.6px;height:7.74px;background:#f59ba7;"></div>
<div class="a" style="left:988.38px;top:371.56px;width:35.6px;height:46.44px;background:#d68d97;"></div>
<div class="a" style="left:988.38px;top:394.78px;width:35.6px;height:23.22px;background:#f59ba7;"></div>
<div class="a" style="left:1031.44px;top:390.91px;width:35.6px;height:27.09px;background:#d68d97;"></div>
<div class="a" style="left:1031.44px;top:402.52px;width:35.6px;height:15.48px;background:#f59ba7;"></div>
<div class="a" style="left:1074.5px;top:406.39px;width:35.6px;height:11.61px;background:#d68d97;"></div>
<div class="a" style="left:1117.56px;top:398.65px;width:35.6px;height:19.35px;background:#d68d97;"></div>
<div class="a" style="left:1160.62px;top:402.52px;width:35.6px;height:15.48px;background:#d68d97;"></div>
<div class="a" style="left:1160.62px;top:414.13px;width:35.6px;height:3.87px;background:#f59ba7;"></div>
<div class="a" style="left:1203.68px;top:398.65px;width:35.6px;height:19.35px;background:#d68d97;"></div>
<div class="a" style="left:1203.68px;top:410.26px;width:35.6px;height:7.74px;background:#f59ba7;"></div>
<div class="a" style="left:1246.74px;top:348.34px;width:35.6px;height:69.66px;background:#d68d97;"></div>
<div class="a" style="left:1246.74px;top:414.13px;width:35.6px;height:3.87px;background:#f59ba7;"></div>
<div class="a" style="left:1289.8px;top:402.52px;width:35.6px;height:15.48px;background:#d68d97;"></div>
<div class="a" style="left:1289.8px;top:414.13px;width:35.6px;height:3.87px;background:#f59ba7;"></div>
<div class="a" style="left:1332.86px;top:406.39px;width:35.6px;height:11.61px;background:#d68d97;"></div>
<div class="a" style="left:186px;top:417.2px;width:1160px;height:1.7px;background:#69748a;"></div>
<div class="a" style="left:255.4px;top:418px;width:2px;height:9px;background:#5f6a7d;"></div>
<span class="t" style="left:231.90px;top:428.65px;font:400 19.6px/25px 'Liberation Sans',sans-serif;color:#1c2b34;letter-spacing:-0.010px;-webkit-text-stroke:0.3px;">12:00</span>
<div class="a" style="left:513.76px;top:418px;width:2px;height:9px;background:#5f6a7d;"></div>
<span class="t" style="left:486.26px;top:428.65px;font:400 19.6px/25px 'Liberation Sans',sans-serif;color:#1c2b34;letter-spacing:0.141px;-webkit-text-stroke:0.3px;">Wed 3</span>
<div class="a" style="left:772.12px;top:418px;width:2px;height:9px;background:#5f6a7d;"></div>
<span class="t" style="left:748.62px;top:428.65px;font:400 19.6px/25px 'Liberation Sans',sans-serif;color:#1c2b34;letter-spacing:-0.010px;-webkit-text-stroke:0.3px;">12:00</span>
<div class="a" style="left:1030.48px;top:418px;width:2px;height:9px;background:#5f6a7d;"></div>
<span class="t" style="left:1005.48px;top:428.16px;font:400 19.84px/26px 'Liberation Sans',sans-serif;color:#1c2b34;letter-spacing:0.253px;-webkit-text-stroke:0.3px;">Thu 4</span>
<div class="a" style="left:1288.84px;top:418px;width:2px;height:9px;background:#5f6a7d;"></div>
<span class="t" style="left:1265.34px;top:428.65px;font:400 19.6px/25px 'Liberation Sans',sans-serif;color:#1c2b34;letter-spacing:-0.010px;-webkit-text-stroke:0.3px;">12:00</span>
<div class="a" style="left:0px;top:0px;width:94px;height:1858px;background:#282c39;"></div>
<div class="a" style="left:0px;top:1763px;width:94px;height:2px;background:#4a4e5b;"></div>
<div class="a" style="left:17px;top:361px;width:50px;height:2px;background:linear-gradient(90deg,rgba(90,94,108,0),#5b5f6d 30%,#5b5f6d 70%,rgba(90,94,108,0));"></div>
<div class="a" style="left:17px;top:762px;width:50px;height:2px;background:linear-gradient(90deg,rgba(90,94,108,0),#5b5f6d 30%,#5b5f6d 70%,rgba(90,94,108,0));"></div>
<div class="a" style="left:17px;top:1225px;width:50px;height:2px;background:linear-gradient(90deg,rgba(90,94,108,0),#5b5f6d 30%,#5b5f6d 70%,rgba(90,94,108,0));"></div>
<svg class="a" style="left:0px;top:0px;" width="94" height="70" viewBox="0 0 94 70"><g fill="#efeff1"><ellipse cx="25.3" cy="14.3" rx="5.9" ry="8.6" transform="rotate(-16 25.3 14.3)"/><path d="M27 11 C29 8.5 33 9.5 36 8.6 L38 7.2 L40 8.6 L43 7.4 L46 8.2 C48 6.2 50 4 51.5 4 C55 5 58 10 58 14 C56 13.6 54.6 12.2 53.6 11.6 C55 16 57 20 57.6 24 C59.2 28 58.2 32 55.6 33.6 C52 36.2 46 36.6 42 35.6 L39.4 36.6 L41.4 52.5 L36 51 C34 47.5 31.5 45.2 29.6 44.6 C31.6 41.5 31.3 38.6 30.2 35.8 C29 33.4 28 32 27.3 31 C24.4 27 24.8 22 26.5 19.5 Z"/><ellipse cx="29.2" cy="53" rx="6.9" ry="8.7" transform="rotate(-24 29.2 53)" stroke="#282c39" stroke-width="1.3"/></g><path d="M30.8 16 C32 19.5 30.4 22.6 27.4 22.2" fill="none" stroke="#282c39" stroke-width="1.5"/><path d="M52.2 5.2 L50.2 11 L53.8 11.8" fill="none" stroke="#282c39" stroke-width="1.1"/><ellipse cx="39.7" cy="20.4" rx="2.7" ry="2.2" transform="rotate(-22 39.7 20.4)" fill="#282c39"/><ellipse cx="52.3" cy="18" rx="1.2" ry="1.9" transform="rotate(-20 52.3 18)" fill="#282c39"/><ellipse cx="52.9" cy="27.8" rx="2.8" ry="2" transform="rotate(-8 52.9 27.8)" fill="#282c39"/><path d="M38.2 32.2 C42 36 49 36.6 53.2 33.4" fill="none" stroke="#282c39" stroke-width="1.3"/><path d="M39.3 36.5 L67.9 32.8 L69.3 51.2 L42.4 56.7 Z" fill="#282c39" stroke="#efeff1" stroke-width="1.9" stroke-linejoin="miter"/><path d="M40.4 37.6 L66.8 34 L66.8 36 L61.6 43.2 L59.8 42 L57.6 41.4 L55.4 43.4 L53.2 46.4 L50.6 46.8 L47.6 47.6 L45.2 50.6 L43 53.8 L42.7 55 Z" fill="#efeff1"/></svg>
<svg class="a" style="left:25px;top:298px;" width="34" height="34" viewBox="0 0 34 34"><circle cx="14.5" cy="14.5" r="10" fill="none" stroke="#c4c6cb" stroke-width="2.8"/><path d="M22 22 L31 31" stroke="#c4c6cb" stroke-width="3"/></svg>
<svg class="a" style="left:25px;top:390px;" width="34" height="34" viewBox="0 0 34 34"><path d="M8 9 A12 12 0 1 1 6 22" fill="none" stroke="#c4c6cb" stroke-width="2.8"/><path d="M3 5 L5 13 L13 11.5" fill="none" stroke="#c4c6cb" stroke-width="2.8"/><path d="M18 10 V18 H11" fill="none" stroke="#c4c6cb" stroke-width="2.8"/></svg>
<svg class="a" style="left:25px;top:452px;" width="34" height="34" viewBox="0 0 34 34"><path d="M20 3 C21 10 23 12 30 13.5 C23 15 21 17 20 24 C19 17 17 15 10 13.5 C17 12 19 10 20 3 Z" fill="#c4c6cb"/><path d="M9 19 C9.6 23 10.8 24.2 15 25 C10.8 25.8 9.6 27 9 31 C8.4 27 7.2 25.8 3 25 C7.2 24.2 8.4 23 9 19 Z" fill="#c4c6cb"/></svg>
<svg class="a" style="left:25px;top:514px;" width="34" height="34" viewBox="0 0 34 34"><path d="M2 4 V30 H32" fill="none" stroke="#c4c6cb" stroke-width="2.8"/><path d="M6 26 V16 L12 9 L18 17 L24 11 L30 20 V26 Z" fill="#c4c6cb"/></svg>
<svg class="a" style="left:25px;top:574.5px;" width="34" height="34" viewBox="0 0 34 34"><path d="M28 9 A14 14 0 1 0 31 17" fill="none" stroke="#c4c6cb" stroke-width="2.8"/><path d="M22.5 13 A8 8 0 1 0 25 17" fill="none" stroke="#c4c6cb" stroke-width="2.8"/><path d="M17 17 L29 5" stroke="#c4c6cb" stroke-width="2.8"/><circle cx="17" cy="17" r="2.6" fill="#c4c6cb"/></svg>
<svg class="a" style="left:25px;top:638.5px;" width="34" height="34" viewBox="0 0 34 34"><path d="M14 12 L26 8 V24 L14 29 Z" fill="none" stroke="#c4c6cb" stroke-width="2.6" stroke-linejoin="round"/><path d="M9 26 V10 L20 5.5" fill="none" stroke="#c4c6cb" stroke-width="2.6"/><path d="M4 23 V8 L15 3.5" fill="none" stroke="#c4c6cb" stroke-width="2.6"/></svg>
<svg class="a" style="left:25px;top:699.5px;" width="34" height="34" viewBox="0 0 34 34"><path d="M21.5 1.5 L5 19.5 H14.5 L11.5 32.5 L29 13.5 H19 Z" fill="#c4c6cb" stroke="#c4c6cb" stroke-width="1.6" stroke-linejoin="round"/></svg>
<svg class="a" style="left:25px;top:792.5px;" width="34" height="34" viewBox="0 0 34 34"><path d="M9 3 L15.5 6.8 V14.2 L9 18 L2.5 14.2 V6.8 Z" fill="#c4c6cb"/><path d="M17 17 L23.5 20.8 V28.2 L17 32 L10.5 28.2 V20.8 Z" fill="#c4c6cb"/><path d="M25 4.5 L30.5 7.7 V14.3 L25 17.5 L19.5 14.3 V7.7 Z" fill="none" stroke="#c4c6cb" stroke-width="2.6"/></svg>
<svg class="a" style="left:25px;top:856.5px;" width="34" height="34" viewBox="0 0 34 34"><path d="M10 26 C3 26 1 17 8 15 C8 7 19 4 23 11 C30 10 34 19 28 24" fill="none" stroke="#c4c6cb" stroke-width="2.6" stroke-linecap="round"/><path d="M21.5 17 C18 14.5 13.5 16 14.5 19 C15.5 22 21.5 21 21.5 24.5 C21.5 28 16 28 13.5 26 M17.8 13 V31" fill="none" stroke="#c4c6cb" stroke-width="2.4"/></svg>
<svg class="a" style="left:25px;top:916px;" width="34" height="34" viewBox="0 0 34 34"><path d="M0.9 6 H33 M0.9 14 H6.7 M11 14 H33 M11 22 H23 M26.6 22 H33 M17 29.6 H23" stroke="#c4c6cb" stroke-width="3.8" fill="none"/></svg>
<svg class="a" style="left:25px;top:977.5px;" width="34" height="34" viewBox="0 0 34 34"><path d="M8.5 4 H31 V19.8 H21.5" fill="none" stroke="#c4c6cb" stroke-width="2.7"/><path d="M6 12.4 H18.2 V28 H12.5" fill="none" stroke="#c4c6cb" stroke-width="2.7"/><rect x="2.7" y="19.8" width="6" height="10.6" fill="none" stroke="#c4c6cb" stroke-width="2.7"/></svg>
<svg class="a" style="left:25px;top:1040px;" width="34" height="34" viewBox="0 0 34 34"><path d="M17.4 10 A7.2 7.2 0 1 0 10.3 18.2 L23.2 15.8 A7.4 7.4 0 1 1 16.4 26.4" fill="none" stroke="#c4c6cb" stroke-width="2.7" stroke-linecap="round"/><path d="M14 21.8 L16 26.8 L21.2 25.2" fill="none" stroke="#c4c6cb" stroke-width="2.6"/></svg>
<svg class="a" style="left:25px;top:1101.5px;" width="34" height="34" viewBox="0 0 34 34"><path d="M17 3 L28 9.8 V19.5 C28 25 23 29 17 31.2 C11 29 6 25 6 19.5 V9.8 Z" fill="none" stroke="#ffffff" stroke-width="2.9" stroke-linejoin="round"/><path d="M17 3 V31.2" stroke="#ffffff" stroke-width="2.7"/><path d="M6.8 11.6 L17 17.1 M6.8 19.9 L17 25.4" stroke="#ffffff" stroke-width="2.7"/></svg>
<svg class="a" style="left:25px;top:1162.5px;" width="34" height="34" viewBox="0 0 34 34"><path d="M14.6 5.2 A12 12 0 1 0 29 17.6" fill="none" stroke="#c4c6cb" stroke-width="2.8"/><path d="M24.2 4.2 C24.9 8.8 26.4 10.3 31 11 C26.4 11.7 24.9 13.2 24.2 17.8 C23.5 13.2 22 11.7 17.4 11 C22 10.3 23.5 8.8 24.2 4.2 Z" fill="#c4c6cb"/><path d="M16 14 C16.4 16.8 17.4 17.8 20.2 18.2 C17.4 18.6 16.4 19.6 16 22.4 C15.6 19.6 14.6 18.6 11.8 18.2 C14.6 17.8 15.6 16.8 16 14 Z" fill="#c4c6cb"/></svg>
<svg class="a" style="left:25px;top:1256.5px;" width="34" height="34" viewBox="0 0 34 34"><rect x="9.8" y="8.2" width="14.8" height="18.2" rx="7" fill="none" stroke="#c4c6cb" stroke-width="2.7"/><path d="M10.6 11.4 L17.2 17.2 L23.8 11.4 M17.2 17.2 V26" fill="none" stroke="#c4c6cb" stroke-width="2.5"/><path d="M10.4 10.4 L2.8 3.4 M24 10.4 L31.6 3.4 M9.8 17.4 H0.8 M24.6 17.4 H33.6 M10.8 24.2 L3.4 31.2 M23.6 24.2 L31 31.2" stroke="#c4c6cb" stroke-width="2.6" fill="none"/><path d="M13.2 8.4 V5 H21.2 V8.4" stroke="#c4c6cb" stroke-width="2.4" fill="none"/></svg>
<svg class="a" style="left:25px;top:1318.5px;" width="34" height="34" viewBox="0 0 34 34"><path d="M4.6 28.4 A15 15 0 0 1 18.4 4" fill="none" stroke="#c4c6cb" stroke-width="3.2" stroke-dasharray="3 2.5"/><path d="M29.4 10.6 A15 15 0 0 1 29.2 28" fill="none" stroke="#c4c6cb" stroke-width="4.2" stroke-linecap="round"/><path d="M25.6 4.6 L20.9 22.8 A3.9 3.9 0 1 1 13.6 20.2 Z" fill="#c4c6cb"/></svg>
<svg class="a" style="left:25px;top:1380px;" width="34" height="34" viewBox="0 0 34 34"><path d="M1.4 3 H8.6 M10.5 3 H17.7 M19.6 3 H25.8 M1.4 11.9 H9 M1.4 20.7 H8.6" stroke="#c4c6cb" stroke-width="3.6" fill="none"/><circle cx="21" cy="15.6" r="8.6" fill="none" stroke="#c4c6cb" stroke-width="3"/><circle cx="21.3" cy="15.4" r="2.4" fill="#c4c6cb"/><path d="M15.2 22.4 L8.2 30.4" stroke="#c4c6cb" stroke-width="3.6" stroke-linecap="round"/></svg>
<svg class="a" style="left:25px;top:1620.5px;" width="34" height="34" viewBox="0 0 34 34"><path d="M1 10.5 H8.4 C6.2 4.5 18 4.5 15.8 10.5 H24 V19 C30.5 15.2 36.5 24.6 24 24 V30.5 H1 Z" fill="#c4c6cb"/><circle cx="12.1" cy="23.8" r="3.1" fill="#282c39"/><rect x="10.7" y="25" width="2.8" height="6" fill="#282c39"/></svg>
<svg class="a" style="left:22px;top:1683.5px;" width="40" height="40" viewBox="0 0 40 40"><defs><clipPath id="avc"><circle cx="20" cy="20" r="20"/></clipPath></defs><g clip-path="url(#avc)"><rect width="40" height="40" fill="#a58d88"/><ellipse cx="8" cy="9" rx="11" ry="8" fill="#8d9a80"/><ellipse cx="30" cy="6" rx="13" ry="7" fill="#cfb3b0"/><ellipse cx="32" cy="22" rx="8" ry="10" fill="#b79d96"/><ellipse cx="20" cy="21.5" rx="11.5" ry="10.5" fill="#2a2220"/><ellipse cx="13.2" cy="25" rx="3.6" ry="5" fill="#8b4f2b"/><ellipse cx="26.8" cy="25" rx="3.6" ry="5" fill="#8b4f2b"/><ellipse cx="20" cy="18" rx="1.7" ry="6.5" fill="#e9e3dd"/><ellipse cx="20" cy="25.5" rx="4.6" ry="4" fill="#ece7e2"/><ellipse cx="20" cy="23.4" rx="1.8" ry="1.3" fill="#15110f"/><ellipse cx="20" cy="27.4" rx="1.5" ry="1.2" fill="#c58a8c"/><circle cx="16" cy="19.5" r="1" fill="#0d0a09"/><circle cx="24" cy="19.5" r="1" fill="#0d0a09"/><ellipse cx="20" cy="39" rx="7.5" ry="8" fill="#efebe7"/></g></svg>
<svg class="a" style="left:32.5px;top:1781.5px;" width="23" height="27" viewBox="0 0 23 27"><path d="M2 8.2 C2 0.4 21 0.4 21 8.6 C21 14.2 11.6 13.6 11.6 19.6" fill="none" stroke="#d2d4d9" stroke-width="2.6"/><rect x="9.8" y="22.6" width="3.6" height="3.6" rx="0.8" fill="#d2d4d9"/></svg>
<span class="t" style="left:21.10px;top:1824.11px;font:400 22.61px/29px 'Liberation Sans',sans-serif;color:#d2d4d9;letter-spacing:-0.176px;-webkit-text-stroke:0.3px;">Help</span>
<div class="a" style="left:1248px;top:0px;width:90px;height:1858px;background:linear-gradient(to right, rgba(25,28,40,0) 0%, rgba(25,28,40,.012) 30%, rgba(25,28,40,.04) 60%, rgba(25,28,40,.075) 85%, rgba(25,28,40,.11) 100%);"></div>
<div class="a" style="left:1338px;top:0px;width:2488px;height:1858px;background:#fff;"></div>
<div class="a" style="left:1338px;top:0px;width:2488px;height:6px;background:#eb364b;"></div>
<svg class="a" style="left:1373px;top:39px;" width="22" height="27" viewBox="0 0 22 27"><path d="M11 1.5 L20.5 5 V13 C20.5 19.5 16.5 23.5 11 25.5 C5.5 23.5 1.5 19.5 1.5 13 V5 Z" fill="none" stroke="#6b7079" stroke-width="2.2" stroke-linejoin="round"/><path d="M11 7 V15" stroke="#6b7079" stroke-width="2.6"/><circle cx="11" cy="19" r="1.6" fill="#6b7079"/></svg>
<span class="t" style="left:1414.80px;top:37.26px;font:400 25.29px/33px 'Liberation Sans',sans-serif;color:#1c2b34;letter-spacing:-0.182px;-webkit-text-stroke:0.3px;">Threat</span>
<div class="a" style="left:1519px;top:35.5px;width:4px;height:33px;background:#e2e4ee;border-radius:2px;"></div>
<span class="t" style="left:1556.30px;top:37.75px;font:400 24.99px/32px 'Liberation Sans',sans-serif;color:#1c2b34;letter-spacing:-0.180px;-webkit-text-stroke:0.3px;">Mon, Dec 8, 2025, 11:02:15 pm</span>
<div class="a" style="left:1916.7px;top:34.5px;width:235.7px;height:35px;background:#e2e5ef;border-radius:8px;"></div>
<span class="t" style="left:1925.00px;top:35.47px;font:400 25.86px/34px 'Liberation Sans',sans-serif;color:#5f6672;letter-spacing:-0.187px;-webkit-text-stroke:0.3px;">about 10 hours ago</span>
<svg class="a" style="left:3444px;top:38px;" width="27" height="27" viewBox="0 0 27 27"><path d="M2 15 V25 H25 V15" fill="none" stroke="#6b7079" stroke-width="2.4"/><path d="M13.5 18 V3 M7 9 L13.5 2.5 L20 9" fill="none" stroke="#6b7079" stroke-width="2.4"/></svg>
<span class="t" style="left:3497.70px;top:35.48px;font:400 26.85px/35px 'Liberation Sans',sans-serif;color:#006bc2;letter-spacing:0.310px;-webkit-text-stroke:0.3px;">Open full page</span>
<svg class="a" style="left:3688.5px;top:39.5px;" width="27" height="26" viewBox="0 0 27 26"><g fill="none" stroke="#006bc2" stroke-width="2.7"><path d="M2 9.5 V2 H9.5 M2 2 L9.5 9.5"/><path d="M17.5 2 H25 V9.5 M25 2 L17.5 9.5"/><path d="M2 16.5 V24 H9.5 M2 24 L9.5 16.5"/><path d="M25 16.5 V24 H17.5 M25 24 L17.5 16.5"/></g></svg>
<div class="a" style="left:3733.5px;top:35.5px;width:4px;height:33px;background:#e2e4ee;border-radius:2px;"></div>
<svg class="a" style="left:3767px;top:41px;" width="23" height="23" viewBox="0 0 23 23"><path d="M1 1 L22 22 M22 1 L1 22" stroke="#6b7079" stroke-width="2.2" fill="none"/></svg>
<div class="a" style="left:1370.4px;top:96px;width:139.6px;height:39.6px;background:#eb364b;border-radius:8px;"></div>
<span class="t" style="left:1411.95px;top:102.10px;font:700 22.05px/29px 'Liberation Sans',sans-serif;color:#fff;letter-spacing:0.344px;">HIGH</span>
<span class="t" style="left:1526.20px;top:93.65px;font:700 36px/47px 'Liberation Sans',sans-serif;color:#1c2b34;letter-spacing:0.288px;">SQL injection attempts on routes performing SQL queries [service] - High rate of 5XX HTTP errors generated</span>
<div class="a" style="left:1370.4px;top:158.8px;width:226.8px;height:41px;background:#f2f2f5;border-radius:8px;"></div>
<span class="t" style="left:1378.70px;top:161.20px;font:400 27.82px/36px 'Liberation Sans',sans-serif;color:#0b3a7e;letter-spacing:-0.187px;-webkit-text-stroke:0.3px;"><span style="color:#4f5e86">service:</span>user-auth</span>
<div class="a" style="left:1606px;top:158.8px;width:112.5px;height:41px;background:#f2f2f5;border-radius:8px;"></div>
<span class="t" style="left:1614.30px;top:161.20px;font:400 27.8px/36px 'Liberation Sans',sans-serif;color:#0b3a7e;letter-spacing:-0.210px;-webkit-text-stroke:0.3px;"><span style="color:#4f5e86">env:</span>dev</span>
<div class="a" style="left:1727px;top:158.8px;width:182.8px;height:41px;background:#f2f2f5;border-radius:8px;"></div>
<span class="t" style="left:1735.30px;top:161.20px;font:400 28px/36px 'Liberation Sans',sans-serif;color:#0b3a7e;letter-spacing:-0.023px;-webkit-text-stroke:0.3px;"><span style="color:#4f5e86">team:</span>security</span>
<div class="a" style="left:1918.2px;top:158.8px;width:233.8px;height:41px;background:#f2f2f5;border-radius:8px;"></div>
<span class="t" style="left:1926.50px;top:161.20px;font:400 27.73px/36px 'Liberation Sans',sans-serif;color:#0b3a7e;letter-spacing:-0.205px;-webkit-text-stroke:0.3px;"><span style="color:#4f5e86">version:</span>b2e4aa25</span>
<div class="a" style="left:2160.3px;top:158.8px;width:345.6px;height:41px;background:#f2f2f5;border-radius:8px;"></div>
<span class="t" style="left:2168.60px;top:161.20px;font:400 28px/36px 'Liberation Sans',sans-serif;color:#0b3a7e;letter-spacing:-0.093px;-webkit-text-stroke:0.3px;"><span style="color:#4f5e86">source:</span>application-security</span>
<div class="a" style="left:2514.2px;top:158.8px;width:619.8px;height:41px;background:#f2f2f5;border-radius:8px;"></div>
<span class="t" style="left:2522.50px;top:161.20px;font:400 27.54px/36px 'Liberation Sans',sans-serif;color:#0b3a7e;letter-spacing:-0.194px;-webkit-text-stroke:0.3px;"><span style="color:#4f5e86">kube_cluster_name:</span>dev-gke-shopist-a-us-central1</span>
<div class="a" style="left:3143.3px;top:158.8px;width:250.7px;height:41px;background:#f2f2f5;border-radius:8px;"></div>
<span class="t" style="left:3151.60px;top:161.20px;font:400 28px/36px 'Liberation Sans',sans-serif;color:#0b3a7e;letter-spacing:-0.139px;-webkit-text-stroke:0.3px;"><span style="color:#4f5e86">cloud_provider:</span>gcp</span>
<div class="a" style="left:3402.3px;top:158.8px;width:323.9px;height:41px;background:#f2f2f5;border-radius:8px;"></div>
<span class="t" style="left:3410.60px;top:161.20px;font:400 27.91px/36px 'Liberation Sans',sans-serif;color:#4f5e86;letter-spacing:-0.180px;-webkit-text-stroke:0.3px;">goog-gke-cluster-id-ba...</span>
<div class="a" style="left:3735.5px;top:158.8px;width:66px;height:41px;background:#fff;border:2px solid #c8cae2;border-radius:8px;"></div>
<span class="t" style="left:3746.50px;top:162.37px;font:400 26px/34px 'Liberation Sans',sans-serif;color:#1c2b34;letter-spacing:-0.035px;-webkit-text-stroke:0.3px;">+99</span>
<div class="a" style="left:1338px;top:232px;width:2488px;height:2px;background:#e6e7ee;"></div>
<div class="a" style="left:1370px;top:267px;width:1611px;height:1246.8px;background:#fff;border:2px solid #e6e7ee;border-radius:12px;"></div>
<span class="t" style="left:1403.80px;top:314.50px;font:700 28px/36px 'Liberation Sans',sans-serif;color:#1c2b34;letter-spacing:0.318px;">WHAT HAPPENED</span>
<div class="a" style="left:1403.8px;top:394px;width:1542.7px;height:2px;background:#e6e7ee;"></div>
<span class="t" style="left:1403.80px;top:431.43px;font:700 23.8px/31px 'Liberation Sans',sans-serif;color:#5f6672;letter-spacing:-0.223px;">SERVICE</span>
<div class="a" style="left:1635.8px;top:431px;width:167px;height:40px;background:#fff;border:2px solid #e2e4ee;border-radius:7px;"></div>
<div class="a" style="left:1635.8px;top:431px;width:40px;height:40px;background:#2ea3dc;border-radius:7px 0 0 7px;"></div>
<svg class="a" style="left:1640px;top:435px;" width="32" height="32" viewBox="0 0 32 32"><g fill="#fff"><circle cx="12" cy="17" r="8"/><circle cx="24.5" cy="8" r="5"/><circle cx="25" cy="24.5" r="4.2"/></g><g stroke="#fff" stroke-width="3.4"><path d="M12 6.5 V27.5 M1.5 17 H22.5 M4.6 9.6 L19.4 24.4 M19.4 9.6 L4.6 24.4"/><path d="M24.5 1.5 V14.5 M18 8 H31 M20 3.5 L29 12.5 M29 3.5 L20 12.5" stroke-width="2.6"/><path d="M25 19 V30 M19.5 24.5 H30.5 M21 20.5 L29 28.5 M29 20.5 L21 28.5" stroke-width="2.2"/></g><circle cx="12" cy="17" r="3.4" fill="#2ea3dc"/><circle cx="24.5" cy="8" r="2.1" fill="#2ea3dc"/><circle cx="25" cy="24.5" r="1.7" fill="#2ea3dc"/></svg>
<span class="t" style="left:1684.80px;top:434.77px;font:400 25.86px/34px 'Liberation Sans',sans-serif;color:#1c2b34;letter-spacing:-0.184px;-webkit-text-stroke:0.3px;">user-auth</span>
<div class="a" style="left:1835px;top:428px;width:359px;height:47.5px;background:#eff0f5;border-radius:24px;"></div>
<svg class="a" style="left:1853.5px;top:439.5px;" width="26" height="26" viewBox="0 0 26 26"><g fill="none" stroke="#5f6672" stroke-width="2" stroke-linejoin="round"><path d="M23.8 1.8 C17 2.4 11.2 6.8 7.6 13.4 L12.2 18 C18.8 14.4 23.2 8.6 23.8 1.8 Z"/><path d="M9.8 10.2 L4.2 11 L1.8 15.6 L6.6 15"/><path d="M15.4 15.8 L14.6 21.4 L10 23.8 L10.6 19"/></g><path d="M1.5 24.2 L2 18.6 L7.2 23.6 Z" fill="#5f6672"/></svg>
<span class="t" style="left:1889.00px;top:436.26px;font:400 25.68px/33px 'Liberation Sans',sans-serif;color:#555b66;letter-spacing:-0.176px;-webkit-text-stroke:0.3px;">Service Not In Production</span>
<div class="a" style="left:2210px;top:431px;width:112.7px;height:41px;background:#f2f2f5;border-radius:8px;"></div>
<span class="t" style="left:2218.30px;top:433.40px;font:400 27.86px/36px 'Liberation Sans',sans-serif;color:#0b3a7e;letter-spacing:-0.211px;-webkit-text-stroke:0.3px;"><span style="color:#4f5e86">env:</span>dev</span>
<div class="a" style="left:1635.8px;top:492px;width:1310.7px;height:2px;background:#e6e7ee;"></div>
<span class="t" style="left:1640.30px;top:515.58px;font:400 26.8px/35px 'Liberation Sans',sans-serif;color:#6b7079;letter-spacing:-0.183px;-webkit-text-stroke:0.3px;">This service has</span>
<svg class="a" style="left:1843px;top:515.5px;" width="27" height="31" viewBox="0 0 27 31"><g fill="none" stroke="#6b7079" stroke-width="2.2" stroke-linejoin="round"><path d="M23.5 13.5 V7.6 L12.6 1.6 L1.7 7.6 V22 L12.6 28.6 L18.6 25.2"/><circle cx="12.8" cy="15.8" r="5.6"/><path d="M17 19.8 L25.8 24.6"/></g></svg>
<div class="a" style="left:1879.4px;top:510.3px;width:97.3px;height:39.4px;background:#fdecee;border-radius:7px;"></div>
<span class="t" style="left:1890.00px;top:516.01px;font:700 23px/30px 'Liberation Sans',sans-serif;color:#da2f48;letter-spacing:-0.114px;">4 HIGH</span>
<div class="a" style="left:1985px;top:510.3px;width:133.4px;height:39.4px;background:#fff4e5;border-radius:7px;"></div>
<span class="t" style="left:1995.20px;top:516.01px;font:700 23px/30px 'Liberation Sans',sans-serif;color:#e37b00;letter-spacing:0.068px;">4 MEDIUM</span>
<span class="t" style="left:2126.80px;top:513.50px;font:400 27.5px/36px 'Liberation Sans',sans-serif;color:#006bc2;letter-spacing:0.279px;-webkit-text-stroke:0.3px;">vulnerabilities</span>
<div class="a" style="left:1403.8px;top:581.5px;width:1542.7px;height:2px;background:#e6e7ee;"></div>
<span class="t" style="left:1403.80px;top:619.42px;font:700 23.48px/31px 'Liberation Sans',sans-serif;color:#b3243a;letter-spacing:-0.234px;">ATTACKERS</span>
<div class="a" style="left:1636.4px;top:616.7px;width:78px;height:46.5px;background:#fff;border:2px solid #e2e4ee;border-radius:24px;"></div>
<span class="t" style="left:1654.15px;top:625.44px;font:400 24.26px/32px 'Liberation Sans',sans-serif;color:#1c2b34;letter-spacing:-0.164px;-webkit-text-stroke:0.3px;">1 IP</span>
<span class="t" style="left:1722.80px;top:623.99px;font:400 27px/35px 'Liberation Sans',sans-serif;color:#1c2b34;letter-spacing:0.275px;-webkit-text-stroke:0.3px;">targeted this service</span>
<div class="a" style="left:1636.4px;top:681px;width:248.1px;height:39.4px;background:#fff;border:2px solid #e2e4ee;border-radius:20px;"></div>
<svg class="a" style="left:1650.5px;top:693.5px;" width="21" height="16.5" viewBox="0 0 23 19"><path d="M1 3 C6 1.5 12 4.5 22 2 V15 C14 17.5 8 14 1 16 Z" fill="#de2b2f"/><path d="M5.5 4.5 L6.3 6.6 L8.5 6.7 L6.8 8.1 L7.4 10.2 L5.5 9 L3.6 10.2 L4.2 8.1 L2.5 6.7 L4.7 6.6 Z" fill="#ffd84a"/></svg>
<span class="t" style="left:1681.50px;top:688.21px;font:400 22.54px/29px 'Liberation Sans',sans-serif;color:#1c2b34;letter-spacing:-0.161px;-webkit-text-stroke:0.3px;">14.21.77.85</span>
<svg class="a" style="left:1808px;top:689.3px;" width="28" height="28" viewBox="0 0 28 28"><path d="M2 1 V27" stroke="#0b4a9e" stroke-width="3"/><path d="M3.5 3 H26 L19.5 11 L26 19 H3.5 Z" fill="#0f5cc0"/></svg>
<svg class="a" style="left:1844.5px;top:688.5px;" width="24" height="27" viewBox="0 0 24 27"><path d="M12 1 L23 5 V13 C23 20 18.5 24 12 26 C5.5 24 1 20 1 13 V5 Z" fill="#6c7185"/><path d="M12 7 V15.5" stroke="#fff" stroke-width="3.2"/><circle cx="12" cy="19.8" r="1.9" fill="#fff"/></svg>
<div class="a" style="left:1403.8px;top:753.5px;width:1542.7px;height:2px;background:#e6e7ee;"></div>
<span class="t" style="left:1403.80px;top:791.41px;font:700 22.98px/30px 'Liberation Sans',sans-serif;color:#b3243a;letter-spacing:-0.235px;">USERS</span>
<div class="a" style="left:1636.4px;top:788.4px;width:105.1px;height:47px;background:#fff;border:2px solid #e2e4ee;border-radius:24px;"></div>
<span class="t" style="left:1654.50px;top:796.95px;font:400 25.2px/33px 'Liberation Sans',sans-serif;color:#1c2b34;letter-spacing:-0.173px;-webkit-text-stroke:0.3px;">1 user</span>
<div class="a" style="left:1636.4px;top:852.8px;width:489.8px;height:38.8px;background:#fff;border:2px solid #e2e4ee;border-radius:20px;"></div>
<svg class="a" style="left:1655px;top:860.5px;" width="18" height="24" viewBox="0 0 18 24"><circle cx="9" cy="5.2" r="3.6" fill="none" stroke="#6b7079" stroke-width="2"/><path d="M2 23 V18 C2 13.5 5 12 9 12 C13 12 16 13.5 16 18 V23 Z" fill="none" stroke="#6b7079" stroke-width="2.2"/></svg>
<span class="t" style="left:1686.00px;top:858.21px;font:400 23px/30px 'Liberation Sans',sans-serif;color:#1c2b34;letter-spacing:-0.146px;-webkit-text-stroke:0.3px;">486e6117-8a02-5738-9105-ba26419df502</span>
<div class="a" style="left:1403.8px;top:926px;width:1542.7px;height:2px;background:#e6e7ee;"></div>
<span class="t" style="left:1403.80px;top:962.93px;font:700 24px/31px 'Liberation Sans',sans-serif;color:#5f6672;letter-spacing:0.056px;">SECURITY</span>
<span class="t" style="left:1403.80px;top:999.41px;font:700 22.96px/30px 'Liberation Sans',sans-serif;color:#5f6672;letter-spacing:-0.233px;">TRACES</span>
<div class="a" style="left:1636.4px;top:964.3px;width:698px;height:47.2px;background:#fff;border:2px solid #e2e4ee;border-radius:24px;"></div>
<span class="t" style="left:1653.80px;top:972.76px;font:400 25.34px/33px 'Liberation Sans',sans-serif;color:#1c2b34;letter-spacing:-0.182px;-webkit-text-stroke:0.3px;">85 sql_injection_attempts_with_database_queries_with_5xx</span>
<div class="a" style="left:2890px;top:960.4px;width:56.5px;height:55px;background:#fff;border:2px solid #e2e4ee;border-radius:0 7px 7px 0;"></div>
<div class="a" style="left:2837.6px;top:960.4px;width:54.5px;height:55px;background:#fff;border:2px solid #c8cae2;border-radius:7px 0 0 7px;"></div>
<svg class="a" style="left:2851px;top:974px;" width="29" height="29" viewBox="0 0 29 29"><circle cx="12" cy="12" r="10" fill="none" stroke="#5f6672" stroke-width="2.4"/><path d="M19.5 19.5 L27.5 27.5" stroke="#5f6672" stroke-width="2.6"/><path d="M6.5 12 H17.5" stroke="#5f6672" stroke-width="2.4"/></svg>
<svg class="a" style="left:2905px;top:975px;" width="27" height="27" viewBox="0 0 27 27"><path d="M4.5 7 A11 11 0 1 1 3 16" fill="none" stroke="#c0c3ca" stroke-width="2.4"/><path d="M3.5 1.5 V8 H10" fill="none" stroke="#c0c3ca" stroke-width="2.4"/></svg>
<span class="t" style="left:1708.60px;top:1328.26px;font:400 20px/26px 'Liberation Sans',sans-serif;color:#1c2b34;letter-spacing:-0.123px;-webkit-text-stroke:0.3px;">0</span>
<span class="t" style="left:1697.10px;top:1247.10px;font:400 20px/26px 'Liberation Sans',sans-serif;color:#1c2b34;letter-spacing:0.127px;-webkit-text-stroke:0.3px;">20</span>
<span class="t" style="left:1697.10px;top:1165.94px;font:400 20px/26px 'Liberation Sans',sans-serif;color:#1c2b34;letter-spacing:0.127px;-webkit-text-stroke:0.3px;">40</span>
<span class="t" style="left:1697.10px;top:1084.78px;font:400 20px/26px 'Liberation Sans',sans-serif;color:#1c2b34;letter-spacing:0.127px;-webkit-text-stroke:0.3px;">60</span>
<div class="a" style="left:2301.5px;top:1058.5px;width:57.5px;height:282.8px;background:#fdeaec;"></div>
<div class="a" style="left:1726px;top:1259.94px;width:1210.5px;height:1.4px;background:#e6e7ec;"></div>
<div class="a" style="left:1726px;top:1178.78px;width:1210.5px;height:1.4px;background:#e6e7ec;"></div>
<div class="a" style="left:1726px;top:1097.62px;width:1210.5px;height:1.4px;background:#e6e7ec;"></div>
<div class="a" style="left:2298.4px;top:1109.99px;width:10.6px;height:231.306px;background:#8fc4f7;"></div>
<div class="a" style="left:2350.4px;top:1227.68px;width:10.4px;height:113.624px;background:#8fc4f7;"></div>
<div class="a" style="left:2301.5px;top:1058.5px;width:57.5px;height:282.8px;border:2px dashed rgba(244,150,166,.8);border-bottom:none;"></div>
<div class="a" style="left:1726px;top:1340.5px;width:1210.5px;height:2px;background:#4b5567;"></div>
<div class="a" style="left:2301.5px;top:1341.7px;width:57.5px;height:8.6px;background:#f8687c;"></div>
<div class="a" style="left:1835.2px;top:1341.3px;width:2px;height:9px;background:#4b5567;"></div>
<span class="t" style="left:1810.70px;top:1352.16px;font:400 20px/26px 'Liberation Sans',sans-serif;color:#1c2b34;letter-spacing:0.190px;-webkit-text-stroke:0.3px;">22:50</span>
<div class="a" style="left:2027.65px;top:1341.3px;width:2px;height:9px;background:#4b5567;"></div>
<span class="t" style="left:2003.15px;top:1352.16px;font:400 20px/26px 'Liberation Sans',sans-serif;color:#1c2b34;letter-spacing:0.190px;-webkit-text-stroke:0.3px;">22:55</span>
<div class="a" style="left:2220.1px;top:1341.3px;width:2px;height:9px;background:#4b5567;"></div>
<span class="t" style="left:2195.60px;top:1352.16px;font:400 20px/26px 'Liberation Sans',sans-serif;color:#1c2b34;letter-spacing:0.190px;-webkit-text-stroke:0.3px;">23:00</span>
<div class="a" style="left:2412.55px;top:1341.3px;width:2px;height:9px;background:#4b5567;"></div>
<span class="t" style="left:2388.05px;top:1352.16px;font:400 20px/26px 'Liberation Sans',sans-serif;color:#1c2b34;letter-spacing:0.190px;-webkit-text-stroke:0.3px;">23:05</span>
<div class="a" style="left:2605px;top:1341.3px;width:2px;height:9px;background:#4b5567;"></div>
<span class="t" style="left:2580.50px;top:1352.16px;font:400 20px/26px 'Liberation Sans',sans-serif;color:#1c2b34;letter-spacing:0.190px;-webkit-text-stroke:0.3px;">23:10</span>
<div class="a" style="left:2797.45px;top:1341.3px;width:2px;height:9px;background:#4b5567;"></div>
<span class="t" style="left:2772.95px;top:1352.16px;font:400 20px/26px 'Liberation Sans',sans-serif;color:#1c2b34;letter-spacing:0.190px;-webkit-text-stroke:0.3px;">23:15</span>
<div class="a" style="left:1706px;top:1409px;width:22px;height:22px;background:#8fc4f7;border-radius:4px;"></div>
<span class="t" style="left:1739.50px;top:1405.81px;font:400 23px/30px 'Liberation Sans',sans-serif;color:#1c2b34;letter-spacing:-0.032px;-webkit-text-stroke:0.3px;">sql_injection_attempts_with_database_queries_with_5xx</span>
<svg class="a" style="left:2999.6px;top:625.3px;" width="58" height="64" viewBox="0 0 58 64"><path d="M1.5 17.5 H24.5 V2.5 L56.5 32 L24.5 61.5 V46.5 H1.5 Z" fill="#006bc2" stroke="#006bc2" stroke-width="3" stroke-linejoin="round"/></svg>
<div class="a" style="left:3067.3px;top:266.3px;width:734.7px;height:863.5px;background:#006bc2;border-radius:18px;"></div>
<span class="t" style="left:3091.70px;top:288.99px;font:700 27.24px/35px 'Liberation Sans',sans-serif;color:#fff;letter-spacing:-0.254px;">NEXT STEPS</span>
<div class="a" style="left:3075.2px;top:344.3px;width:719px;height:244.7px;background:#fff;border-radius:8px;"></div>
<div class="a" style="left:3075.2px;top:596.8px;width:719px;height:524.6px;background:#fff;border-radius:8px 8px 12px 12px;"></div>
<span class="t" style="left:3107.50px;top:362.98px;font:700 26.67px/35px 'Liberation Sans',sans-serif;color:#6b7079;letter-spacing:-0.194px;">Triage</span>
<div class="a" style="left:3107.5px;top:413.7px;width:654.2px;height:54.7px;background:#eaf4fb;border:2.5px solid #006bc2;border-radius:7px;"></div>
<span class="t" style="left:3378.40px;top:425.95px;font:700 25px/32px 'Liberation Sans',sans-serif;color:#006bc2;letter-spacing:-0.263px;">OPEN</span>
<svg class="a" style="left:3467.3px;top:436.8px;" width="19.5" height="11" viewBox="0 0 19.5 11"><path d="M1 1.5 H18.5 L9.75 10 Z" fill="#006bc2" stroke="#006bc2" stroke-width="1.5" stroke-linejoin="round"/></svg>
<div class="a" style="left:3107.5px;top:485.7px;width:654.2px;height:54.7px;background:#fff;border:2px solid #c8cae2;border-radius:7px;"></div>
<svg class="a" style="left:3331px;top:499px;" width="32" height="27" viewBox="0 0 32 27"><circle cx="9.5" cy="5.5" r="4.2" fill="none" stroke="#6b7079" stroke-width="2.2"/><path d="M2 25 V20 C2 15 5 13 9.5 13 C14 13 17 15 17 20 V25 Z" fill="none" stroke="#6b7079" stroke-width="2.2"/><path d="M25.5 9 V19 M20.5 14 H30.5" stroke="#6b7079" stroke-width="2.2"/></svg>
<span class="t" style="left:3376.30px;top:496.18px;font:400 26.87px/35px 'Liberation Sans',sans-serif;color:#1c2b34;letter-spacing:-0.186px;-webkit-text-stroke:0.3px;">Assign Signal</span>
<span class="t" style="left:3107.50px;top:616.76px;font:700 25.7px/33px 'Liberation Sans',sans-serif;color:#6b7079;letter-spacing:-0.235px;">Respond</span>
<div class="a" style="left:3107.5px;top:666.3px;width:654.2px;height:55px;background:#b9def5;border-radius:7px;"></div>
<svg class="a" style="left:3299.6px;top:678px;" width="24" height="31" viewBox="0 0 24 31"><path d="M1.5 12 V19 C1.5 25.6 5.8 29.6 11.9 29.6 C18 29.6 22.3 25.6 22.3 19 V7.6" fill="none" stroke="#fff" stroke-width="2.4"/><path d="M6.3 2.8 V13.2 M11.9 0 V13.2 M17.5 2.8 V14.8" fill="none" stroke="#fff" stroke-width="2.2"/><path d="M5 18.5 C8.2 18.7 10.7 20.6 11.1 23.4" fill="none" stroke="#fff" stroke-width="2"/></svg>
<span class="t" style="left:3341.40px;top:677.49px;font:400 27px/35px 'Liberation Sans',sans-serif;color:#fff;letter-spacing:0.052px;-webkit-text-stroke:0.3px;">Block Attacking IPs</span>
<div class="a" style="left:3107.5px;top:738.7px;width:654.2px;height:54.6px;background:#f8f9fb;border:2px solid #e6e7ee;border-radius:7px;"></div>
<svg class="a" style="left:3283.5px;top:750.5px;" width="24" height="31" viewBox="0 0 24 31"><path d="M1.5 12 V19 C1.5 25.6 5.8 29.6 11.9 29.6 C18 29.6 22.3 25.6 22.3 19 V7.6" fill="none" stroke="#b0b4bb" stroke-width="2.4"/><path d="M6.3 2.8 V13.2 M11.9 0 V13.2 M17.5 2.8 V14.8" fill="none" stroke="#b0b4bb" stroke-width="2.2"/><path d="M5 18.5 C8.2 18.7 10.7 20.6 11.1 23.4" fill="none" stroke="#b0b4bb" stroke-width="2"/></svg>
<span class="t" style="left:3325.70px;top:749.99px;font:400 27px/35px 'Liberation Sans',sans-serif;color:#b0b4bb;letter-spacing:0.062px;-webkit-text-stroke:0.3px;">Block Attacking Users</span>
<div class="a" style="left:3107.5px;top:810.5px;width:654.2px;height:54.8px;background:#fff;border:2px solid #c8cae2;border-radius:7px;"></div>
<svg class="a" style="left:3316.5px;top:823.5px;" width="31" height="29" viewBox="0 0 31 29"><g fill="none" stroke="#6b7079" stroke-width="2.2"><rect x="2" y="1.5" width="8" height="8"/><path d="M6 9.5 V17"/><path d="M6 17 L11.3 22.3 L6 27.6 L0.7 22.3 Z"/><path d="M10 5.5 H18 C22 5.5 24 8 24 12"/><circle cx="24" cy="16.5" r="4.3"/></g></svg>
<span class="t" style="left:3361.70px;top:821.79px;font:400 27px/35px 'Liberation Sans',sans-serif;color:#1c2b34;letter-spacing:0.016px;-webkit-text-stroke:0.3px;">Run a Workflow</span>
<span class="t" style="left:3107.70px;top:901.18px;font:700 26.7px/35px 'Liberation Sans',sans-serif;color:#6b7079;letter-spacing:-0.199px;">Protect</span>
<div class="a" style="left:3107.5px;top:951.7px;width:654.2px;height:54.8px;background:#f8f9fb;border:2px solid #e6e7ee;border-radius:7px;"></div>
<svg class="a" style="left:3224.8px;top:963.5px;" width="24" height="31" viewBox="0 0 24 31"><path d="M1.5 12 V19 C1.5 25.6 5.8 29.6 11.9 29.6 C18 29.6 22.3 25.6 22.3 19 V7.6" fill="none" stroke="#b0b4bb" stroke-width="2.4"/><path d="M6.3 2.8 V13.2 M11.9 0 V13.2 M17.5 2.8 V14.8" fill="none" stroke="#b0b4bb" stroke-width="2.2"/><path d="M5 18.5 C8.2 18.7 10.7 20.6 11.1 23.4" fill="none" stroke="#b0b4bb" stroke-width="2"/></svg>
<span class="t" style="left:3265.80px;top:962.99px;font:400 27.09px/35px 'Liberation Sans',sans-serif;color:#b0b4bb;letter-spacing:0.320px;-webkit-text-stroke:0.3px;">Automate Attacker Blocking</span>
<svg class="a" style="left:3624.6px;top:975px;" width="19.5" height="11" viewBox="0 0 19.5 11"><path d="M1 1.5 H18.5 L9.75 10 Z" fill="#b0b4bb" stroke="#b0b4bb" stroke-width="1.5" stroke-linejoin="round"/></svg>
<svg class="a" style="left:3132px;top:1060.5px;" width="15" height="24" viewBox="0 0 15 24"><path d="M2 2 L12.5 12 L2 22" fill="none" stroke="#6b7079" stroke-width="2.4"/></svg>
<span class="t" style="left:3163.40px;top:1054.99px;font:400 27px/35px 'Liberation Sans',sans-serif;color:#1c2b34;letter-spacing:0.228px;-webkit-text-stroke:0.3px;">More actions</span>
<div class="a" style="left:1338px;top:1549.5px;width:2488px;height:2px;background:#e6e7ee;"></div>
<div class="a" style="left:1369.7px;top:1599.8px;width:2432px;height:300px;background:#fff;border:2px solid #e6e7ee;border-radius:8px;"></div>
<svg class="a" style="left:1396px;top:1647px;" width="29" height="18" viewBox="0 0 29 18"><path d="M2 2.5 L14.5 15 L27 2.5" fill="none" stroke="#737881" stroke-width="3"/></svg>
<span class="t" style="left:1440.50px;top:1636.34px;font:700 30px/39px 'Liberation Sans',sans-serif;color:#1c2b34;letter-spacing:-0.152px;">Activity Summary</span>
<div class="a" style="left:1371.7px;top:1710.5px;width:2428px;height:2px;background:#e6e7ee;"></div>
<div class="a" style="left:1338px;top:1727px;width:2488px;height:131px;background:#fff;box-shadow:0 -2px 8px rgba(30,35,60,.14);"></div>
<div class="a" style="left:1386.2px;top:1760px;width:2399.1px;height:72px;background:#006bc2;border-radius:7px;"></div>
<svg class="a" style="left:2391px;top:1780px;" width="33" height="33" viewBox="0 0 33 33"><circle cx="14" cy="14" r="11.5" fill="none" stroke="#fff" stroke-width="2.8"/><path d="M22.5 22.5 L31 31" stroke="#fff" stroke-width="3"/></svg>
<span class="t" style="left:2439.40px;top:1776.06px;font:400 31.19px/41px 'Liberation Sans',sans-serif;color:#fff;letter-spacing:0.323px;-webkit-text-stroke:0.3px;">Investigate in full screen</span>
</div>
</body></html>
